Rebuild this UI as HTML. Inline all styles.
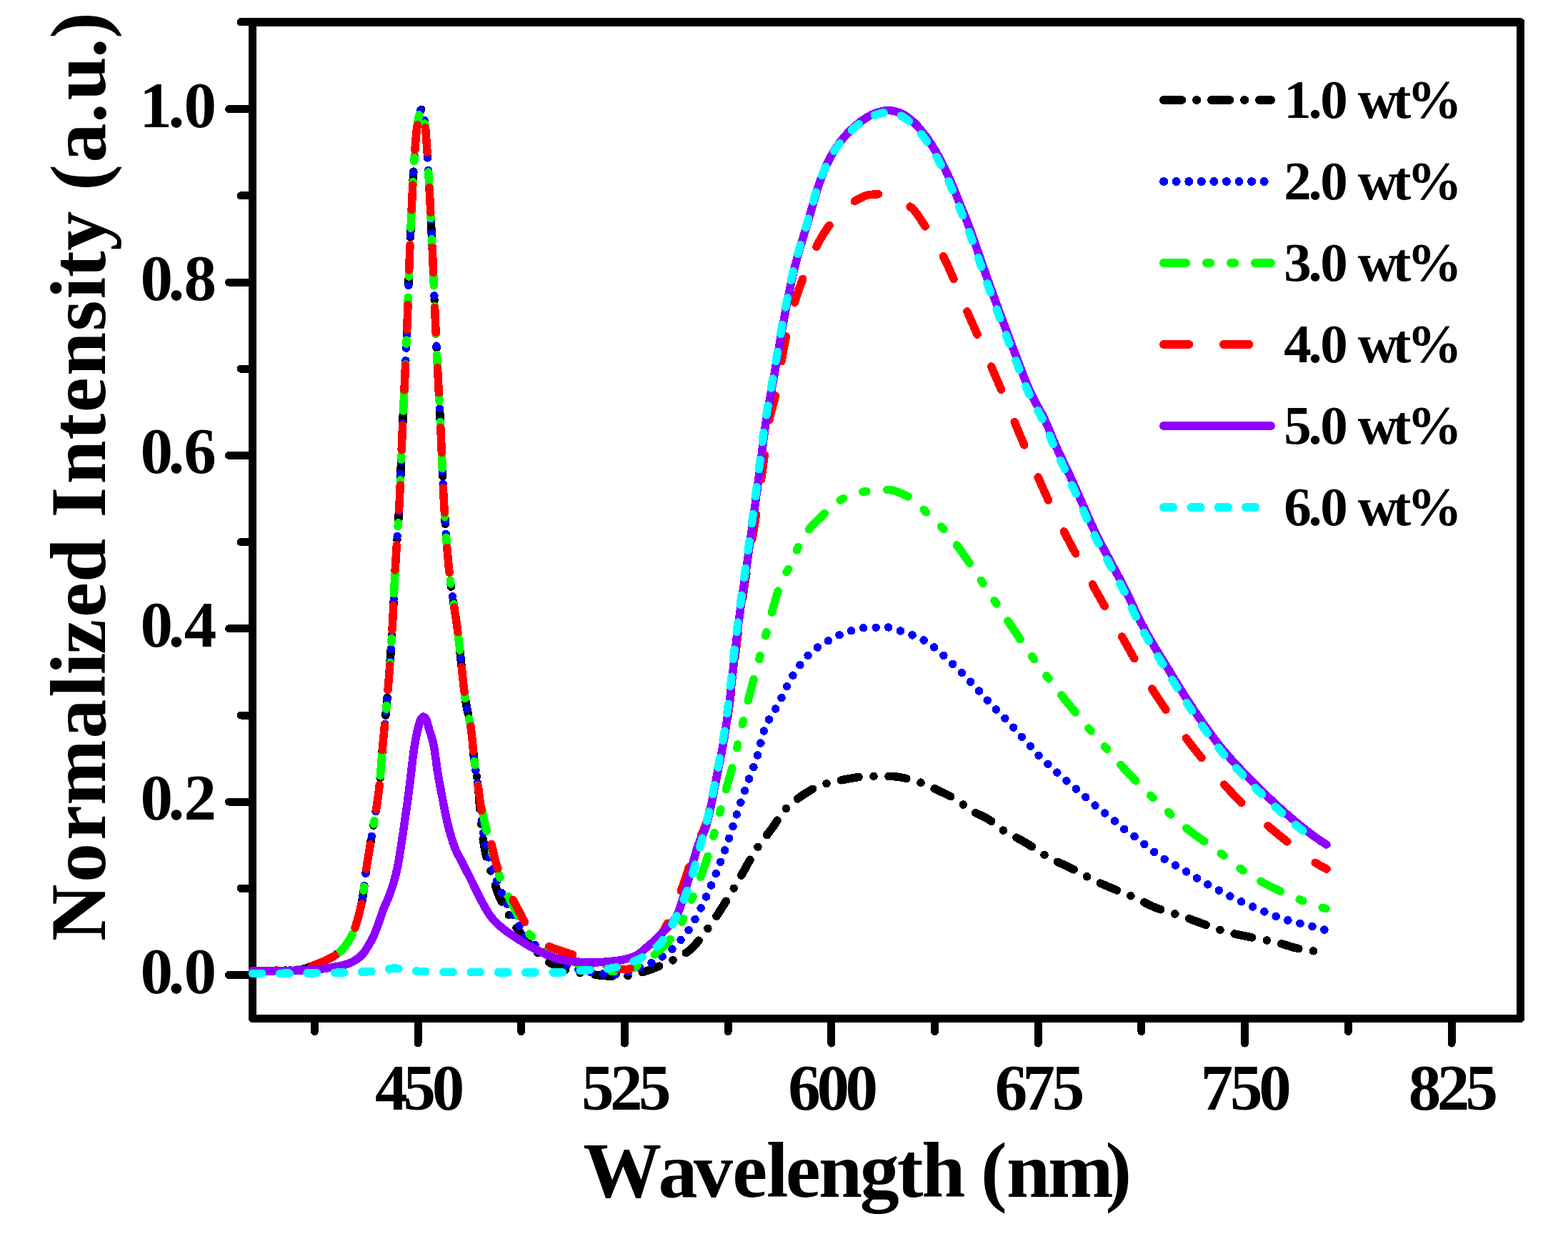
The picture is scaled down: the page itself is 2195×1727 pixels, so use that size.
<!DOCTYPE html>
<html><head><meta charset="utf-8"><title>Normalized Intensity vs Wavelength</title><style>html,body{margin:0;padding:0;background:#fff;overflow:hidden}svg{display:block}</style></head><body>
<svg width="2195" height="1727" viewBox="0 0 2195 1727" shape-rendering="crispEdges">
<rect width="2195" height="1727" fill="#fff"/>
<path d="M353.5,30.7H2128.5V1425.4H353.5Z" fill="none" stroke="#000" stroke-width="11" stroke-linejoin="round"/>
<path d="M353.5,31.3H2128.5" fill="none" stroke="#000" stroke-width="12.2"/>
<path d="M353.5,1364.5H320.6 M353.5,1243.3H337 M353.5,1122.1H320.6 M353.5,1001H337 M353.5,879.8H320.6 M353.5,758.6H337 M353.5,637.4H320.6 M353.5,516.2H337 M353.5,395.1H320.6 M353.5,273.9H337 M353.5,152.7H320.6 M353.5,30.7H337 M440.3,1425.4V1443.5 M585,1425.4V1460.1 M729.7,1425.4V1443.5 M874.4,1425.4V1460.1 M1019.1,1425.4V1443.5 M1163.8,1425.4V1460.1 M1308.5,1425.4V1443.5 M1453.2,1425.4V1460.1 M1597.9,1425.4V1443.5 M1742.6,1425.4V1460.1 M1887.3,1425.4V1443.5 M2032,1425.4V1460.1" fill="none" stroke="#000" stroke-width="11" stroke-linecap="round"/>
<text x="524.9 564.5 604.7" y="1553" font-size="91" font-family="'Liberation Serif', 'Times New Roman', serif" font-weight="bold">450</text>
<text x="813.9 854.1 893.9" y="1553" font-size="91" font-family="'Liberation Serif', 'Times New Roman', serif" font-weight="bold">525</text>
<text x="1103.3 1143.5 1183.5" y="1553" font-size="91" font-family="'Liberation Serif', 'Times New Roman', serif" font-weight="bold">600</text>
<text x="1392.7 1431.4 1472.7" y="1553" font-size="91" font-family="'Liberation Serif', 'Times New Roman', serif" font-weight="bold">675</text>
<text x="1680.8 1722.1 1762.3" y="1553" font-size="91" font-family="'Liberation Serif', 'Times New Roman', serif" font-weight="bold">750</text>
<text x="1971.7 2011.7 2051.5" y="1553" font-size="91" font-family="'Liberation Serif', 'Times New Roman', serif" font-weight="bold">825</text>
<text x="196.6 235.4 257.6" y="1389.5" font-size="91" font-family="'Liberation Serif', 'Times New Roman', serif" font-weight="bold">0.0</text>
<text x="196.6 235.4 257.6" y="1147.1" font-size="91" font-family="'Liberation Serif', 'Times New Roman', serif" font-weight="bold">0.2</text>
<text x="196.6 235.4 257.8" y="904.8" font-size="91" font-family="'Liberation Serif', 'Times New Roman', serif" font-weight="bold">0.4</text>
<text x="196.6 235.4 257.3" y="662.4" font-size="91" font-family="'Liberation Serif', 'Times New Roman', serif" font-weight="bold">0.6</text>
<text x="196.6 235.4 257.6" y="420.1" font-size="91" font-family="'Liberation Serif', 'Times New Roman', serif" font-weight="bold">0.8</text>
<text x="195.3 235.4 257.6" y="177.7" font-size="91" font-family="'Liberation Serif', 'Times New Roman', serif" font-weight="bold">1.0</text>
<text x="816.3 921.4 971 1025.2 1073 1099.8 1145.9 1203.8 1255.8 1290.3 1351.4 1372.9 1408.9 1466.9 1547.5" y="1675" font-size="110" font-family="'Liberation Serif', 'Times New Roman', serif" font-weight="bold">Wavelength (nm)</text>
<text transform="rotate(-90)" x="-1317 -1235 -1175.9 -1126.9 -1033.5 -975.8 -944.3 -915.8 -864 -815 -753.8 -724.6 -677.4 -615.5 -577.3 -526 -463.3 -418.5 -387.9 -350.8 -295.8 -266.8 -227.6 -171.9 -140.5 -80.9 -53.8" y="147.3" font-size="110" font-family="'Liberation Serif', 'Times New Roman', serif" font-weight="bold">Normalized Intensity (a.u.)</text>
<path d="M353.5,1358.5 356,1358.5 358.5,1358.5 361,1358.5 363.5,1358.5 366,1358.5 368.5,1358.4 371,1358.4 373.5,1358.4 376,1358.4 378.5,1358.3 381,1358.3 383.5,1358.3 386,1358.2 388.5,1358.2 391,1358.2 393.5,1358.1 396,1358.1 398.5,1358 401,1358 403.5,1357.9 406,1357.8 408.5,1357.7 411,1357.5 413.5,1357.3 416,1357.1 418.5,1356.8 421,1356.5 423.5,1356.2 426,1355.8 428.5,1355.2 430.9,1354.4 433.3,1353.4 435.6,1352.4 437.9,1351.4 440.3,1350.4 442.7,1349.5 445.1,1348.6 447.5,1347.6 449.9,1346.7 452.3,1345.7 454.6,1344.7 456.9,1343.6 459.2,1342.5 461.5,1341.4 463.8,1340.2 466,1338.9 468.2,1337.6 470.3,1336.2 472.4,1334.7 474.4,1333.1 476.4,1331.5 478.3,1329.7 480.1,1327.8 481.8,1325.8 483.4,1323.7 484.9,1321.6 486.4,1319.4 487.8,1317.3 489.2,1315.1 490.5,1313 491.8,1310.7 493,1308.3 494.1,1306 495.2,1303.5 496.2,1300.9 497.1,1298.3 497.9,1295.8 498.7,1293.1 499.4,1290.7 500.1,1288.3 500.8,1285.7 501.5,1283.2 502.2,1280.6 502.9,1277.9 503.6,1275.2 504.2,1272.8 504.8,1270.2 505.4,1267.5 506,1264.7 506.5,1262.3 507,1259.7 507.5,1257 508,1254 508.4,1251.3 508.8,1248.5 509.2,1245.4 509.6,1242.2 510,1239 510.3,1236.5 510.6,1234 510.9,1231.4 511.2,1228.9 511.6,1225.6 512,1222.4 512.4,1219.3 512.8,1216.4 513.2,1213.6 513.6,1211 514,1208.3 514.4,1205.7 514.8,1203.2 515.2,1200.7 515.7,1197.7 516.2,1194.6 516.7,1191.6 517.2,1188.7 517.7,1185.8 518.2,1182.8 518.7,1179.9 519.2,1177 519.7,1174 520.2,1171.1 520.7,1168 521.2,1165 521.6,1162.5 522,1160 522.4,1157.5 522.9,1154.4 523.4,1151.4 523.9,1148.5 524.4,1145.6 524.9,1142.7 525.4,1139.7 525.9,1136.8 526.4,1133.8 526.9,1130.8 527.3,1128.3 527.7,1125.7 528.1,1123 528.5,1120.3 528.9,1117.5 529.3,1114.6 529.7,1111.6 530.1,1108.4 530.5,1105.2 530.8,1102.6 531.1,1100 531.4,1097.2 531.7,1094.1 532,1090.7 532.3,1087.2 532.6,1083.4 532.8,1080.9 533,1078.3 533.2,1075.6 533.4,1073 533.6,1070.3 533.8,1067.6 534,1065 534.2,1062.4 534.4,1059.8 534.6,1057.2 534.9,1053.5 535.2,1050 535.5,1046.6 535.8,1043.3 536.1,1040 536.4,1036.8 536.7,1033.7 537,1030.6 537.3,1027.5 537.6,1024.4 537.9,1021.4 538.2,1018.4 538.5,1015.3 538.8,1012.3 539.1,1009.2 539.4,1006.2 539.7,1003 540,999.9 540.3,996.7 540.6,993.5 540.9,990.2 541.2,986.8 541.5,983.3 541.8,979.8 542.1,976.3 542.4,972.7 542.7,969.1 543,965.5 543.3,961.9 543.6,958.2 543.9,954.5 544.2,950.8 544.4,948.3 544.6,945.8 544.8,943.2 545,940.6 545.2,938 545.4,935.4 545.6,932.8 545.8,930.1 546,927.4 546.2,924.7 546.4,921.9 546.6,919.1 546.8,916.3 547,913.4 547.2,910.5 547.4,907.5 547.6,904.6 547.8,901.5 548,898.5 548.2,895.4 548.4,892.2 548.6,889 548.8,885.8 549,882.4 549.2,878.8 549.4,875.1 549.6,871.3 549.8,867.4 550,863.4 550.2,859.4 550.4,855.2 550.6,851 550.8,846.8 551,842.5 551.2,838.2 551.4,834 551.6,829.7 551.8,825.4 552,821.2 552.2,817 552.4,812.9 552.6,808.9 552.8,804.9 553,801.1 553.2,797.3 553.4,793.7 553.6,790.2 553.8,786.8 554,783.5 554.2,780.2 554.4,777.1 554.6,773.9 554.8,770.9 555,767.9 555.2,764.9 555.4,762 555.6,759.1 555.8,756.2 556,753.3 556.2,750.4 556.4,747.5 556.6,744.6 556.8,741.7 557,738.7 557.2,735.7 557.4,732.7 557.6,729.6 557.8,726.4 558,723.2 558.2,719.9 558.4,716.5 558.6,713 558.8,709.4 559,705.7 559.2,701.9 559.4,698 559.6,693.9 559.8,689.5 560,684.9 560.2,680.2 560.4,675.4 560.6,670.4 560.7,667.9 560.8,665.3 560.9,662.7 561,660.1 561.1,657.6 561.2,654.9 561.3,652.3 561.4,649.7 561.5,647.1 561.6,644.5 561.7,641.9 561.8,639.2 561.9,636.6 562,634.1 562.1,631.5 562.2,628.9 562.3,626.4 562.4,623.9 562.6,619 562.8,614.1 563,609.5 563.2,604.9 563.4,600.3 563.6,595.9 563.8,591.4 564,587 564.2,582.7 564.4,578.3 564.6,574 564.8,569.8 565,565.5 565.2,561.3 565.4,557.1 565.6,552.9 565.8,548.7 566,544.5 566.2,540.3 566.4,536.1 566.6,531.8 566.8,527.6 567,523.3 567.2,519 567.4,514.7 567.6,510.3 567.8,505.9 568,501.5 568.2,497 568.4,492.5 568.6,487.9 568.8,483.2 569,478.5 569.2,473.7 569.4,468.9 569.6,463.8 569.7,461.3 569.8,458.7 569.9,456.1 570,453.5 570.1,450.8 570.2,448.1 570.3,445.4 570.4,442.7 570.5,439.9 570.6,437.2 570.7,434.4 570.8,431.6 570.9,428.7 571,425.9 571.1,423.1 571.2,420.2 571.3,417.4 571.4,414.5 571.5,411.6 571.6,408.8 571.7,405.9 571.8,403 571.9,400.1 572,397.3 572.1,394.4 572.2,391.5 572.3,388.7 572.4,385.9 572.5,383 572.6,380.2 572.7,377.4 572.8,374.6 572.9,371.8 573,369.1 573.1,366.3 573.2,363.6 573.3,360.9 573.4,358.2 573.5,355.6 573.6,352.9 573.7,350.4 573.8,347.8 573.9,345.3 574,342.8 574.2,337.9 574.4,333.1 574.6,328.5 574.8,323.9 575,319.4 575.2,314.8 575.4,310.3 575.6,305.8 575.8,301.4 576,297 576.2,292.6 576.4,288.3 576.6,284 576.8,279.7 577,275.6 577.2,271.5 577.4,267.4 577.6,263.4 577.8,259.5 578,255.7 578.2,252 578.4,248.3 578.6,244.7 578.8,241.2 579,237.9 579.2,234.6 579.4,231.4 579.6,228.3 579.8,225.4 580,222.5 580.2,219.7 580.4,216.8 580.6,214 580.8,211.3 581,208.5 581.2,205.9 581.4,203.3 581.6,200.7 581.9,197 582.2,193.5 582.5,190.1 582.8,187 583.1,184.1 583.4,181.5 583.8,178.4 584.2,175.7 584.6,173.1 585,170.6 585.4,168.1 585.9,165.1 586.4,162.4 586.9,159.8 587.5,157.2 588.3,154.6 589.9,153.2 591.1,155.4 591.9,158.2 592.5,160.8 593,163.2 593.5,165.9 594,168.8 594.5,171.9 594.9,174.4 595.3,177.2 595.6,179.8 595.9,183 596.2,186.5 596.4,189 596.6,191.7 596.8,194.5 597,197.4 597.2,200.3 597.4,203.4 597.6,206.5 597.8,209.6 598,212.8 598.2,216 598.4,219.2 598.6,222.3 598.8,225.4 599,228.5 599.2,231.7 599.4,234.9 599.6,238.2 599.8,241.6 600,245 600.2,248.5 600.4,252.1 600.6,255.6 600.8,259.3 601,263 601.2,266.7 601.4,270.5 601.6,274.3 601.8,278.1 602,282 602.2,286 602.4,289.9 602.6,293.9 602.8,297.9 603,302 603.2,306 603.4,310.1 603.6,314.2 603.8,318.3 604,322.5 604.2,326.6 604.4,330.8 604.6,335 604.8,339.3 605,343.7 605.2,348.1 605.4,352.7 605.6,357.3 605.8,361.9 606,366.6 606.2,371.3 606.4,376.1 606.6,380.9 606.8,385.8 607,390.7 607.2,395.5 607.4,400.4 607.6,405.3 607.8,410.2 608,415.1 608.2,420 608.4,424.9 608.6,429.7 608.8,434.5 609,439.3 609.2,444.1 609.4,448.7 609.6,453.4 609.8,458 610,462.5 610.2,466.9 610.4,471.3 610.6,475.6 610.8,479.9 611,484.1 611.2,488.2 611.4,492.4 611.6,496.5 611.8,500.5 612,504.6 612.2,508.6 612.4,512.5 612.6,516.5 612.8,520.4 613,524.3 613.2,528.2 613.4,532.1 613.6,536 613.8,539.9 614,543.7 614.2,547.6 614.4,551.5 614.6,555.3 614.8,559.2 615,563.1 615.2,567 615.4,571 615.6,574.9 615.8,578.9 616,582.9 616.2,586.9 616.4,591 616.6,595 616.8,599.2 617,603.3 617.2,607.5 617.4,611.8 617.6,616.2 617.8,620.6 618,625.3 618.2,630 618.4,634.8 618.6,639.6 618.8,644.5 619,649.4 619.2,654.3 619.4,659.1 619.6,664 619.8,668.7 620,673.4 620.2,677.9 620.4,682.3 620.6,686.6 620.8,690.7 621,694.6 621.2,698.2 621.4,701.7 621.6,705.1 621.8,708.5 622,711.8 622.2,715.1 622.4,718.3 622.6,721.4 622.8,724.6 623,727.7 623.2,730.7 623.4,733.7 623.6,736.6 623.8,739.6 624,742.4 624.2,745.2 624.4,748 624.6,750.8 624.8,753.4 625,756.1 625.2,758.7 625.4,761.3 625.6,763.8 625.9,767.5 626.2,771.1 626.5,774.6 626.8,778 627.1,781.3 627.4,784.6 627.7,787.7 628,790.7 628.3,793.7 628.6,796.6 628.9,799.4 629.2,802.1 629.5,804.7 629.8,807.3 630.1,809.9 630.5,813.1 630.9,816.3 631.3,819.4 631.7,822.4 632.1,825.3 632.5,828.2 632.9,831 633.3,833.7 633.7,836.4 634.1,839.1 634.5,841.7 634.9,844.3 635.3,846.8 635.7,849.4 636.1,852 636.5,854.5 636.9,857.1 637.3,859.7 637.7,862.3 638.1,865 638.5,867.6 638.9,870.4 639.3,873.2 639.7,876 640.1,878.9 640.5,881.9 640.9,885 641.3,888.2 641.7,891.5 642,894 642.3,896.6 642.6,899.3 642.9,902 643.2,904.7 643.5,907.5 643.8,910.3 644.1,913.1 644.4,916 644.7,918.8 645,921.7 645.3,924.6 645.6,927.5 645.9,930.4 646.2,933.3 646.5,936.2 646.8,939.1 647.1,942 647.4,944.8 647.7,947.6 648,950.4 648.3,953.2 648.6,955.9 648.9,958.5 649.2,961.2 649.5,963.7 649.8,966.2 650.2,969.4 650.6,972.5 651,975.5 651.4,978.3 651.8,981 652.2,983.5 652.7,986.4 653.2,989.1 653.7,991.6 654.3,994.4 654.9,997.2 655.5,999.8 656.1,1002.5 656.7,1005.3 657.3,1008.1 657.8,1010.7 658.3,1013.4 658.8,1016.4 659.2,1019 659.6,1021.7 660,1024.9 660.3,1027.5 660.6,1030.4 660.9,1033.4 661.2,1036.5 661.5,1039.7 661.8,1043 662.1,1046.2 662.4,1049.5 662.7,1052.7 663,1055.8 663.3,1058.8 663.6,1061.6 663.9,1064.2 664.3,1067.3 664.7,1070.2 665.1,1072.9 665.5,1075.4 666,1078.5 666.5,1081.4 667,1084.3 667.5,1087.3 667.9,1089.8 668.3,1092.5 668.7,1095.4 669.1,1098.6 669.4,1101.1 669.7,1103.9 670,1107.2 670.3,1110.9 670.5,1113.5 670.7,1116.2 670.9,1119.1 671.1,1122 671.3,1125 671.5,1127.9 671.7,1130.9 671.9,1133.9 672.1,1136.8 672.3,1139.6 672.5,1142.3 672.7,1144.9 673,1148.5 673.3,1151.7 673.6,1154.4 673.9,1156.9 674.3,1160.1 674.7,1163.3 675.1,1166.3 675.5,1169.2 675.9,1172.1 676.3,1174.8 676.7,1177.4 677.1,1179.9 677.6,1182.9 678.1,1185.8 678.6,1188.5 679.1,1191.1 679.6,1193.6 680.2,1196.4 680.8,1199.1 681.4,1201.6 682.1,1204.3 682.8,1206.8 683.6,1209.4 684.4,1211.8 685.3,1214.4 686.2,1216.8 687.1,1219.2 688,1221.6 688.9,1224.1 689.7,1226.5 690.5,1229 691.3,1231.7 692.1,1234.4 692.9,1237.1 693.7,1239.8 694.5,1242.4 695.3,1245 696.1,1247.4 697,1250 698,1252.5 699,1254.9 700.1,1257.3 701.2,1259.6 702.4,1262 703.6,1264.3 704.8,1266.5 706.1,1268.9 707.4,1271.3 708.6,1273.5 709.8,1275.7 711,1278 712.2,1280.2 713.4,1282.4 714.6,1284.6 715.9,1287 717.2,1289.3 718.5,1291.5 719.8,1293.6 721.2,1295.8 722.6,1297.9 724.1,1300 725.7,1302.1 727.3,1304.1 729,1306.1 730.7,1308 732.4,1309.8 734.2,1311.8 736,1313.7 737.8,1315.6 739.6,1317.5 741.3,1319.3 743,1321.2 744.7,1323.2 746.3,1325.2 747.9,1327.3 749.5,1329.4 751.1,1331.6 752.7,1333.6 754.3,1335.6 756,1337.5 757.8,1339.4 759.7,1341 761.8,1342.5 763.9,1343.9 766.1,1345.3 768.3,1346.6 770.6,1347.8 772.9,1349 775.2,1350.1 777.5,1351.1 779.8,1352.2 782.1,1353.2 784.4,1354.3 786.7,1355.3 789.1,1356.3 791.5,1357.2 793.9,1358 796.4,1358.6 798.9,1359.2 801.4,1359.7 803.9,1360.2 806.4,1360.6 808.9,1361 811.4,1361.4 813.9,1361.8 816.4,1362.1 818.9,1362.5 821.4,1362.8 823.9,1363.1 826.4,1363.4 828.9,1363.7 831.4,1364 833.9,1364.3 836.4,1364.6 838.9,1364.9 841.4,1365.1 843.9,1365.4 846.4,1365.6 848.9,1365.8 851.4,1365.9 853.9,1366 856.4,1366 859,1366 861.6,1366 864.2,1366 866.8,1366 869.4,1366 872,1366 874.6,1366 877.1,1366 879.6,1365.7 882.1,1365.3 884.6,1364.7 887.1,1364 889.6,1363.3 892.1,1362.6 894.6,1362 897.1,1361.3 899.6,1360.6 902,1359.8 904.4,1359 906.8,1358.2 909.2,1357.4 911.6,1356.5 914,1355.6 916.4,1354.7 918.8,1353.8 921.2,1352.8 923.6,1351.8 926,1350.8 928.4,1349.8 930.7,1348.8 933,1347.8 935.3,1346.8 937.6,1345.8 939.9,1344.8 942.2,1343.7 944.5,1342.6 946.8,1341.5 949.1,1340.3 951.4,1339 953.6,1337.8 955.8,1336.5 958,1335.1 960.1,1333.7 962.2,1332.3 964.3,1330.7 966.3,1329.1 968.2,1327.3 970,1325.5 971.8,1323.7 973.5,1321.8 975.2,1319.8 976.8,1317.9 978.4,1315.9 980,1313.9 981.6,1311.8 983.2,1309.7 984.8,1307.5 986.3,1305.5 987.8,1303.5 989.3,1301.5 990.8,1299.5 992.4,1297.4 993.9,1295.4 995.4,1293.3 996.9,1291.2 998.4,1289 999.9,1286.8 1001.3,1284.8 1002.7,1282.7 1004.1,1280.5 1005.5,1278.4 1006.9,1276.2 1008.3,1274 1009.7,1271.8 1011.1,1269.6 1012.5,1267.4 1013.9,1265.1 1015.3,1262.9 1016.7,1260.7 1018.1,1258.4 1019.5,1256.1 1020.8,1254 1022.1,1251.8 1023.4,1249.7 1024.7,1247.5 1026,1245.3 1027.3,1243.1 1028.6,1240.9 1029.9,1238.6 1031.2,1236.4 1032.5,1234.1 1033.8,1231.9 1035.1,1229.7 1036.4,1227.4 1037.7,1225.2 1039,1222.9 1040.3,1220.7 1041.6,1218.3 1042.9,1216 1044.2,1213.6 1045.5,1211.3 1046.8,1208.9 1048.1,1206.5 1049.4,1204.2 1050.7,1201.8 1052,1199.5 1053.3,1197.3 1054.6,1195.1 1055.9,1192.9 1057.3,1190.7 1058.7,1188.5 1060.1,1186.4 1061.6,1184.2 1063.1,1182.2 1064.6,1180.1 1066.2,1178 1067.8,1175.9 1069.4,1173.9 1071,1171.9 1072.6,1169.9 1074.2,1167.8 1075.8,1165.8 1077.4,1163.7 1079,1161.6 1080.5,1159.6 1082,1157.5 1083.5,1155.4 1084.9,1153.3 1086.3,1151 1087.6,1148.8 1088.9,1146.6 1090.2,1144.4 1091.6,1142.2 1093.1,1140 1094.7,1138 1096.4,1136.1 1098.1,1134.2 1099.9,1132.2 1101.7,1130.4 1103.5,1128.7 1105.4,1126.9 1107.3,1125.2 1109.3,1123.6 1111.3,1121.9 1113.3,1120.4 1115.4,1118.8 1117.5,1117.3 1119.6,1115.8 1121.7,1114.3 1123.8,1112.8 1125.9,1111.4 1128,1110 1130.2,1108.6 1132.4,1107.3 1134.6,1106 1136.8,1104.7 1139.1,1103.5 1141.4,1102.4 1143.7,1101.3 1146.1,1100.3 1148.5,1099.5 1150.9,1098.6 1153.3,1097.8 1155.7,1097.1 1158.1,1096.4 1160.6,1095.7 1163.1,1095 1165.6,1094.4 1168.1,1093.8 1170.6,1093.2 1173.1,1092.7 1175.6,1092.2 1178.1,1091.7 1180.6,1091.3 1183.1,1090.8 1185.6,1090.3 1188.1,1089.9 1190.6,1089.4 1193.1,1089 1195.6,1088.5 1198.1,1088.1 1200.6,1087.7 1203.1,1087.3 1205.6,1087 1208.1,1086.7 1210.6,1086.5 1213.1,1086.4 1215.6,1086.3 1218.1,1086.3 1220.6,1086.3 1223.1,1086.3 1225.6,1086.3 1228.1,1086.3 1230.6,1086.4 1233.1,1086.4 1235.6,1086.4 1238.1,1086.4 1240.6,1086.5 1243.1,1086.5 1245.6,1086.5 1248.1,1086.6 1250.6,1086.6 1253.1,1086.8 1255.6,1087.1 1258.1,1087.4 1260.6,1087.8 1263.1,1088.3 1265.6,1088.8 1268.1,1089.4 1270.6,1090 1273.1,1090.6 1275.6,1091.3 1278.1,1092 1280.6,1092.6 1283.1,1093.3 1285.5,1094 1287.9,1094.8 1290.3,1095.7 1292.7,1096.7 1295.1,1097.7 1297.4,1098.7 1299.7,1099.7 1302,1100.8 1304.3,1101.8 1306.6,1102.9 1308.9,1104.1 1311.2,1105.2 1313.5,1106.2 1315.8,1107.3 1318.1,1108.4 1320.4,1109.5 1322.7,1110.6 1325,1111.7 1327.3,1112.9 1329.6,1114.1 1331.9,1115.3 1334.1,1116.6 1336.3,1117.8 1338.5,1119.2 1340.6,1120.5 1342.7,1122 1344.8,1123.5 1346.9,1125 1349,1126.6 1351.1,1128.1 1353.2,1129.7 1355.3,1131.2 1357.4,1132.7 1359.5,1134.1 1361.7,1135.4 1363.9,1136.7 1366.2,1137.9 1368.5,1139.1 1370.8,1140.1 1373.1,1141.2 1375.4,1142.3 1377.7,1143.4 1380,1144.5 1382.2,1145.7 1384.4,1147.1 1386.5,1148.5 1388.5,1150.1 1390.5,1151.6 1392.5,1153.3 1394.5,1154.9 1396.5,1156.6 1398.5,1158.1 1400.6,1159.7 1402.7,1161.1 1404.9,1162.5 1407.1,1163.8 1409.3,1165 1411.5,1166.2 1413.8,1167.5 1416.1,1168.7 1418.4,1169.9 1420.7,1171.1 1423,1172.3 1425.3,1173.5 1427.5,1174.7 1429.7,1175.9 1431.9,1177.2 1434.1,1178.5 1436.3,1179.8 1438.5,1181.2 1440.7,1182.5 1442.9,1183.9 1445.1,1185.3 1447.3,1186.7 1449.5,1188.1 1451.7,1189.5 1453.8,1190.8 1455.9,1192.2 1458,1193.7 1460.1,1195.1 1462.2,1196.5 1464.4,1197.9 1466.6,1199.2 1468.8,1200.5 1471,1201.7 1473.3,1202.9 1475.6,1204.1 1477.9,1205.2 1480.2,1206.2 1482.5,1207.3 1484.8,1208.3 1487.1,1209.3 1489.4,1210.3 1491.7,1211.4 1494,1212.4 1496.3,1213.5 1498.6,1214.7 1500.9,1215.8 1503.2,1217 1505.5,1218.2 1507.8,1219.5 1510.1,1220.7 1512.4,1221.9 1514.7,1223.2 1517,1224.4 1519.3,1225.6 1521.6,1226.8 1523.9,1228 1526.2,1229.2 1528.5,1230.4 1530.8,1231.6 1533.1,1232.7 1535.4,1233.8 1537.7,1234.9 1540,1236 1542.3,1237 1544.6,1238 1546.9,1239 1549.3,1240 1551.7,1241 1554.1,1242 1556.5,1243 1558.9,1244 1561.3,1245 1563.7,1246 1566.1,1247 1568.5,1247.9 1570.9,1248.9 1573.3,1249.9 1575.7,1250.8 1578.1,1251.8 1580.5,1252.8 1582.9,1253.8 1585.2,1254.8 1587.5,1255.8 1589.8,1256.9 1592.1,1258 1594.4,1259.1 1596.7,1260.3 1599,1261.4 1601.3,1262.6 1603.6,1263.8 1605.9,1264.9 1608.2,1266.1 1610.5,1267.2 1612.8,1268.2 1615.1,1269.2 1617.5,1270.2 1619.9,1271.1 1622.3,1272 1624.7,1272.8 1627.1,1273.6 1629.5,1274.3 1631.9,1275.1 1634.3,1275.8 1636.7,1276.5 1639.1,1277.2 1641.5,1278 1643.9,1278.7 1646.3,1279.4 1648.7,1280.2 1651.1,1281 1653.5,1281.8 1655.9,1282.6 1658.3,1283.5 1660.7,1284.3 1663.1,1285.2 1665.5,1286.1 1667.9,1287 1670.3,1287.9 1672.7,1288.8 1675.1,1289.6 1677.5,1290.5 1679.9,1291.4 1682.3,1292.3 1684.7,1293.1 1687.1,1294 1689.5,1294.8 1691.9,1295.7 1694.3,1296.5 1696.7,1297.4 1699.1,1298.3 1701.5,1299.1 1703.9,1300 1706.3,1300.8 1708.7,1301.6 1711.1,1302.4 1713.5,1303.1 1715.9,1303.8 1718.4,1304.5 1720.9,1305.2 1723.4,1305.8 1725.9,1306.4 1728.4,1307 1730.9,1307.5 1733.4,1308.1 1735.9,1308.6 1738.4,1309.1 1740.9,1309.6 1743.4,1310.1 1745.9,1310.6 1748.4,1311.1 1750.9,1311.6 1753.4,1312.1 1755.9,1312.6 1758.4,1313.1 1760.9,1313.6 1763.4,1314.1 1765.9,1314.6 1768.4,1315.1 1770.9,1315.6 1773.4,1316.1 1775.9,1316.6 1778.4,1317.1 1780.9,1317.6 1783.4,1318.1 1785.9,1318.7 1788.4,1319.3 1790.9,1320 1793.4,1320.7 1795.8,1321.4 1798.2,1322.1 1800.6,1322.9 1803,1323.6 1805.4,1324.4 1807.8,1325.1 1810.3,1325.8 1812.8,1326.4 1815.3,1327 1817.8,1327.6 1820.3,1328.1 1822.8,1328.5 1825.3,1328.9 1827.8,1329.3 1830.3,1329.7 1832.8,1330.1 1835.3,1330.4 1837.8,1330.8 1840.3,1331.1 1842.8,1331.4 1845.3,1331.7 1847.8,1331.9 1850.3,1332.2 1852.8,1332.4 1855.3,1332.5 1857,1332.6" fill="none" stroke="#000000" stroke-width="11.5" stroke-linecap="round" stroke-linejoin="round" stroke-dasharray="25 21 0.01 21"/>
<path d="M353.5,1358.5 356,1358.5 358.5,1358.5 361,1358.5 363.5,1358.5 366,1358.5 368.5,1358.4 371,1358.4 373.5,1358.4 376,1358.4 378.5,1358.3 381,1358.3 383.5,1358.3 386,1358.2 388.5,1358.2 391,1358.2 393.5,1358.1 396,1358.1 398.5,1358 401,1358 403.5,1357.9 406,1357.8 408.5,1357.7 411,1357.5 413.5,1357.3 416,1357.1 418.5,1356.8 421,1356.5 423.5,1356.2 426,1355.8 428.5,1355.2 430.9,1354.4 433.3,1353.4 435.6,1352.4 437.9,1351.4 440.3,1350.4 442.7,1349.5 445.1,1348.6 447.5,1347.6 449.9,1346.7 452.3,1345.7 454.6,1344.7 456.9,1343.6 459.2,1342.5 461.5,1341.4 463.8,1340.2 466,1338.9 468.2,1337.6 470.3,1336.2 472.4,1334.7 474.4,1333.1 476.4,1331.5 478.3,1329.7 480.1,1327.8 481.8,1325.8 483.4,1323.7 484.9,1321.6 486.4,1319.4 487.8,1317.3 489.2,1315.1 490.5,1313 491.8,1310.7 493,1308.3 494.1,1306 495.2,1303.5 496.2,1300.9 497.1,1298.3 497.9,1295.8 498.7,1293.1 499.4,1290.7 500.1,1288.3 500.8,1285.7 501.5,1283.2 502.2,1280.6 502.9,1277.9 503.6,1275.2 504.2,1272.8 504.8,1270.2 505.4,1267.5 506,1264.7 506.5,1262.3 507,1259.7 507.5,1257 508,1254 508.4,1251.3 508.8,1248.5 509.2,1245.4 509.6,1242.2 510,1239 510.3,1236.5 510.6,1234 510.9,1231.4 511.2,1228.9 511.6,1225.6 512,1222.4 512.4,1219.3 512.8,1216.4 513.2,1213.6 513.6,1211 514,1208.3 514.4,1205.7 514.8,1203.2 515.2,1200.7 515.7,1197.7 516.2,1194.6 516.7,1191.6 517.2,1188.7 517.7,1185.8 518.2,1182.8 518.7,1179.9 519.2,1177 519.7,1174 520.2,1171.1 520.7,1168 521.2,1165 521.6,1162.5 522,1160 522.4,1157.5 522.9,1154.4 523.4,1151.4 523.9,1148.5 524.4,1145.6 524.9,1142.7 525.4,1139.7 525.9,1136.8 526.4,1133.8 526.9,1130.8 527.3,1128.3 527.7,1125.7 528.1,1123 528.5,1120.3 528.9,1117.5 529.3,1114.6 529.7,1111.6 530.1,1108.4 530.5,1105.2 530.8,1102.6 531.1,1100 531.4,1097.2 531.7,1094.1 532,1090.7 532.3,1087.2 532.6,1083.4 532.8,1080.9 533,1078.3 533.2,1075.6 533.4,1073 533.6,1070.3 533.8,1067.6 534,1065 534.2,1062.4 534.4,1059.8 534.6,1057.2 534.9,1053.5 535.2,1050 535.5,1046.6 535.8,1043.3 536.1,1040 536.4,1036.8 536.7,1033.7 537,1030.6 537.3,1027.5 537.6,1024.4 537.9,1021.4 538.2,1018.4 538.5,1015.3 538.8,1012.3 539.1,1009.2 539.4,1006.2 539.7,1003 540,999.9 540.3,996.7 540.6,993.5 540.9,990.2 541.2,986.8 541.5,983.3 541.8,979.8 542.1,976.3 542.4,972.7 542.7,969.1 543,965.5 543.3,961.9 543.6,958.2 543.9,954.5 544.2,950.8 544.4,948.3 544.6,945.8 544.8,943.2 545,940.6 545.2,938 545.4,935.4 545.6,932.8 545.8,930.1 546,927.4 546.2,924.7 546.4,921.9 546.6,919.1 546.8,916.3 547,913.4 547.2,910.5 547.4,907.5 547.6,904.6 547.8,901.5 548,898.5 548.2,895.4 548.4,892.2 548.6,889 548.8,885.8 549,882.4 549.2,878.8 549.4,875.1 549.6,871.3 549.8,867.4 550,863.4 550.2,859.4 550.4,855.2 550.6,851 550.8,846.8 551,842.5 551.2,838.2 551.4,834 551.6,829.7 551.8,825.4 552,821.2 552.2,817 552.4,812.9 552.6,808.9 552.8,804.9 553,801.1 553.2,797.3 553.4,793.7 553.6,790.2 553.8,786.8 554,783.5 554.2,780.2 554.4,777.1 554.6,773.9 554.8,770.9 555,767.9 555.2,764.9 555.4,762 555.6,759.1 555.8,756.2 556,753.3 556.2,750.4 556.4,747.5 556.6,744.6 556.8,741.7 557,738.7 557.2,735.7 557.4,732.7 557.6,729.6 557.8,726.4 558,723.2 558.2,719.9 558.4,716.5 558.6,713 558.8,709.4 559,705.7 559.2,701.9 559.4,698 559.6,693.9 559.8,689.5 560,684.9 560.2,680.2 560.4,675.4 560.6,670.4 560.7,667.9 560.8,665.3 560.9,662.7 561,660.1 561.1,657.6 561.2,654.9 561.3,652.3 561.4,649.7 561.5,647.1 561.6,644.5 561.7,641.9 561.8,639.2 561.9,636.6 562,634.1 562.1,631.5 562.2,628.9 562.3,626.4 562.4,623.9 562.6,619 562.8,614.1 563,609.5 563.2,604.9 563.4,600.3 563.6,595.9 563.8,591.4 564,587 564.2,582.7 564.4,578.3 564.6,574 564.8,569.8 565,565.5 565.2,561.3 565.4,557.1 565.6,552.9 565.8,548.7 566,544.5 566.2,540.3 566.4,536.1 566.6,531.8 566.8,527.6 567,523.3 567.2,519 567.4,514.7 567.6,510.3 567.8,505.9 568,501.5 568.2,497 568.4,492.5 568.6,487.9 568.8,483.2 569,478.5 569.2,473.7 569.4,468.9 569.6,463.8 569.7,461.3 569.8,458.7 569.9,456.1 570,453.5 570.1,450.8 570.2,448.1 570.3,445.4 570.4,442.7 570.5,439.9 570.6,437.2 570.7,434.4 570.8,431.6 570.9,428.7 571,425.9 571.1,423.1 571.2,420.2 571.3,417.4 571.4,414.5 571.5,411.6 571.6,408.8 571.7,405.9 571.8,403 571.9,400.1 572,397.3 572.1,394.4 572.2,391.5 572.3,388.7 572.4,385.9 572.5,383 572.6,380.2 572.7,377.4 572.8,374.6 572.9,371.8 573,369.1 573.1,366.3 573.2,363.6 573.3,360.9 573.4,358.2 573.5,355.6 573.6,352.9 573.7,350.4 573.8,347.8 573.9,345.3 574,342.8 574.2,337.9 574.4,333.1 574.6,328.5 574.8,323.9 575,319.4 575.2,314.8 575.4,310.3 575.6,305.8 575.8,301.4 576,297 576.2,292.6 576.4,288.3 576.6,284 576.8,279.7 577,275.6 577.2,271.5 577.4,267.4 577.6,263.4 577.8,259.5 578,255.7 578.2,252 578.4,248.3 578.6,244.7 578.8,241.2 579,237.9 579.2,234.6 579.4,231.4 579.6,228.3 579.8,225.4 580,222.5 580.2,219.7 580.4,216.8 580.6,214 580.8,211.3 581,208.5 581.2,205.9 581.4,203.3 581.6,200.7 581.9,197 582.2,193.5 582.5,190.1 582.8,187 583.1,184.1 583.4,181.5 583.8,178.4 584.2,175.7 584.6,173.1 585,170.6 585.4,168.1 585.9,165.1 586.4,162.4 586.9,159.8 587.5,157.2 588.3,154.6 589.9,153.2 591.1,155.4 591.9,158.2 592.5,160.8 593,163.2 593.5,165.9 594,168.8 594.5,171.9 594.9,174.4 595.3,177.2 595.6,179.8 595.9,183 596.2,186.5 596.4,189 596.6,191.7 596.8,194.5 597,197.4 597.2,200.3 597.4,203.4 597.6,206.5 597.8,209.6 598,212.8 598.2,216 598.4,219.2 598.6,222.3 598.8,225.4 599,228.5 599.2,231.7 599.4,234.9 599.6,238.2 599.8,241.6 600,245 600.2,248.5 600.4,252.1 600.6,255.6 600.8,259.3 601,263 601.2,266.7 601.4,270.5 601.6,274.3 601.8,278.1 602,282 602.2,286 602.4,289.9 602.6,293.9 602.8,297.9 603,302 603.2,306 603.4,310.1 603.6,314.2 603.8,318.3 604,322.5 604.2,326.6 604.4,330.8 604.6,335 604.8,339.3 605,343.7 605.2,348.1 605.4,352.7 605.6,357.3 605.8,361.9 606,366.6 606.2,371.3 606.4,376.1 606.6,380.9 606.8,385.8 607,390.7 607.2,395.5 607.4,400.4 607.6,405.3 607.8,410.2 608,415.1 608.2,420 608.4,424.9 608.6,429.7 608.8,434.5 609,439.3 609.2,444.1 609.4,448.7 609.6,453.4 609.8,458 610,462.5 610.2,466.9 610.4,471.3 610.6,475.6 610.8,479.9 611,484.1 611.2,488.2 611.4,492.4 611.6,496.5 611.8,500.5 612,504.6 612.2,508.6 612.4,512.5 612.6,516.5 612.8,520.4 613,524.3 613.2,528.2 613.4,532.1 613.6,536 613.8,539.9 614,543.7 614.2,547.6 614.4,551.5 614.6,555.3 614.8,559.2 615,563.1 615.2,567 615.4,571 615.6,574.9 615.8,578.9 616,582.9 616.2,586.9 616.4,591 616.6,595 616.8,599.2 617,603.3 617.2,607.5 617.4,611.8 617.6,616.2 617.8,620.6 618,625.3 618.2,630 618.4,634.8 618.6,639.6 618.8,644.5 619,649.4 619.2,654.3 619.4,659.1 619.6,664 619.8,668.7 620,673.4 620.2,677.9 620.4,682.3 620.6,686.6 620.8,690.7 621,694.6 621.2,698.2 621.4,701.7 621.6,705.1 621.8,708.5 622,711.8 622.2,715.1 622.4,718.3 622.6,721.4 622.8,724.6 623,727.7 623.2,730.7 623.4,733.7 623.6,736.6 623.8,739.6 624,742.4 624.2,745.2 624.4,748 624.6,750.8 624.8,753.4 625,756.1 625.2,758.7 625.4,761.3 625.6,763.8 625.9,767.5 626.2,771.1 626.5,774.6 626.8,778 627.1,781.3 627.4,784.6 627.7,787.7 628,790.7 628.3,793.7 628.6,796.6 628.9,799.4 629.2,802.1 629.5,804.7 629.8,807.3 630.1,809.9 630.5,813.1 630.9,816.3 631.3,819.4 631.7,822.4 632.1,825.3 632.5,828.2 632.9,831 633.3,833.7 633.7,836.4 634.1,839.1 634.5,841.7 634.9,844.3 635.3,846.8 635.7,849.4 636.1,852 636.5,854.5 636.9,857.1 637.3,859.7 637.7,862.3 638.1,865 638.5,867.6 638.9,870.4 639.3,873.2 639.7,876 640.1,878.9 640.5,881.9 640.9,885 641.3,888.2 641.7,891.5 642,894 642.3,896.6 642.6,899.3 642.9,902 643.2,904.7 643.5,907.5 643.8,910.3 644.1,913.1 644.4,916 644.7,918.8 645,921.7 645.3,924.6 645.6,927.5 645.9,930.4 646.2,933.3 646.5,936.2 646.8,939.1 647.1,942 647.4,944.8 647.7,947.6 648,950.4 648.3,953.2 648.6,955.9 648.9,958.5 649.2,961.2 649.5,963.7 649.8,966.2 650.2,969.4 650.6,972.5 651,975.5 651.4,978.3 651.8,981 652.2,983.5 652.7,986.4 653.2,989.1 653.7,991.6 654.3,994.4 654.9,997.2 655.5,999.8 656.1,1002.5 656.7,1005.3 657.3,1008.1 657.8,1010.7 658.3,1013.4 658.8,1016.4 659.2,1019 659.6,1021.7 660,1024.9 660.3,1027.5 660.6,1030.4 660.9,1033.4 661.2,1036.5 661.5,1039.7 661.8,1043 662.1,1046.2 662.4,1049.5 662.7,1052.7 663,1055.8 663.3,1058.8 663.6,1061.6 663.9,1064.2 664.3,1067.3 664.7,1070.3 665.1,1073.1 665.5,1075.8 665.9,1078.4 666.3,1080.9 666.7,1083.4 667.2,1086.4 667.6,1088.9 668,1091.5 668.4,1094.1 668.8,1096.8 669.2,1099.7 669.6,1102.8 670,1106.1 670.3,1108.8 670.6,1111.6 670.9,1114.5 671.2,1117.5 671.5,1120.6 671.8,1123.7 672.1,1126.9 672.4,1130 672.7,1133.2 673,1136.4 673.3,1139.5 673.6,1142.6 673.9,1145.6 674.2,1148.5 674.5,1151.3 674.8,1154 675.1,1156.5 675.5,1159.6 675.9,1162.4 676.4,1165.3 676.9,1168.1 677.4,1170.8 677.9,1173.4 678.4,1175.9 679,1178.7 679.6,1181.5 680.2,1184.2 680.8,1186.7 681.4,1189.2 682.1,1192 682.8,1194.6 683.5,1197.2 684.2,1199.6 685,1202.4 685.8,1205 686.6,1207.5 687.4,1210 688.2,1212.4 689,1214.8 689.8,1217.2 690.6,1219.6 691.4,1222 692.3,1224.6 693.2,1227.2 694.1,1229.6 695,1232.1 695.9,1234.4 696.9,1236.9 697.9,1239.4 698.9,1241.8 699.9,1244.2 700.9,1246.5 702,1249 703.1,1251.4 704.2,1253.8 705.3,1256.1 706.4,1258.5 707.6,1260.9 708.8,1263.2 710,1265.5 711.2,1267.7 712.5,1270.1 713.8,1272.4 715.1,1274.7 716.4,1277 717.7,1279.4 719,1281.7 720.3,1284 721.6,1286.4 722.9,1288.6 724.2,1290.9 725.5,1293.1 726.8,1295.4 728.1,1297.6 729.4,1299.9 730.7,1302.2 732,1304.6 733.3,1306.8 734.6,1309 736,1311.1 737.6,1313.1 739.4,1315 741.3,1316.8 743.3,1318.4 745.4,1320 747.5,1321.4 749.6,1322.8 751.7,1324.1 753.8,1325.6 755.9,1327 758,1328.5 760.1,1330 762.2,1331.6 764.3,1333.1 766.4,1334.6 768.5,1336.1 770.6,1337.6 772.7,1339.1 774.8,1340.5 776.9,1341.9 779.1,1343.3 781.3,1344.7 783.5,1345.9 785.7,1347.1 788,1348.3 790.3,1349.4 792.7,1350.4 795.1,1351.3 797.5,1352.3 799.9,1353.2 802.3,1354.1 804.7,1354.9 807.1,1355.8 809.5,1356.6 811.9,1357.3 814.4,1358 816.9,1358.7 819.4,1359.3 821.9,1359.8 824.4,1360.3 826.9,1360.7 829.4,1361 831.9,1361.3 834.4,1361.6 836.9,1361.9 839.4,1362.2 841.9,1362.5 844.4,1362.7 846.9,1362.9 849.4,1363.1 851.9,1363.3 854.4,1363.4 856.9,1363.5 859.4,1363.6 861.9,1363.6 864.4,1363.5 866.9,1363.3 869.4,1362.9 871.9,1362.5 874.4,1361.9 876.9,1361.2 879.3,1360.4 881.7,1359.6 884.1,1358.8 886.5,1357.9 888.9,1357 891.3,1356.1 893.7,1355.2 896.1,1354.3 898.5,1353.4 900.9,1352.5 903.3,1351.6 905.6,1350.6 907.9,1349.5 910.2,1348.5 912.5,1347.3 914.8,1346.1 917.1,1344.9 919.3,1343.7 921.5,1342.4 923.7,1341.1 925.9,1339.7 928,1338.3 930.1,1336.9 932.2,1335.4 934.3,1333.9 936.3,1332.3 938.3,1330.6 940.2,1328.9 942.1,1327.1 943.9,1325.4 945.7,1323.6 947.5,1321.7 949.2,1319.9 950.9,1318 952.6,1316 954.3,1314 955.9,1312.1 957.5,1310.1 959.1,1308.1 960.7,1306.1 962.3,1304 963.8,1302 965.3,1299.8 966.7,1297.6 968.1,1295.3 969.4,1293.1 970.7,1290.8 972,1288.5 973.3,1286.1 974.5,1283.9 975.7,1281.7 976.9,1279.4 978.1,1277 979.3,1274.6 980.5,1272.2 981.6,1269.9 982.7,1267.6 983.8,1265.3 984.9,1262.9 986,1260.5 987.1,1258.1 988.2,1255.7 989.3,1253.2 990.4,1250.8 991.5,1248.3 992.6,1245.8 993.7,1243.3 994.7,1241 995.7,1238.6 996.7,1236.3 997.7,1233.9 998.7,1231.4 999.7,1229 1000.7,1226.5 1001.7,1224 1002.7,1221.5 1003.7,1219 1004.7,1216.4 1005.7,1213.9 1006.7,1211.3 1007.6,1208.9 1008.5,1206.6 1009.4,1204.2 1010.3,1201.9 1011.2,1199.5 1012.1,1197 1013,1194.6 1013.9,1192.2 1014.8,1189.7 1015.7,1187.2 1016.6,1184.7 1017.5,1182.2 1018.4,1179.6 1019.3,1177 1020.2,1174.4 1021.1,1171.8 1021.9,1169.4 1022.7,1167 1023.5,1164.5 1024.3,1162 1025.1,1159.5 1025.9,1156.9 1026.7,1154.4 1027.5,1151.8 1028.3,1149.2 1029.1,1146.7 1029.9,1144.1 1030.7,1141.6 1031.5,1139.1 1032.3,1136.6 1033.1,1134.2 1033.9,1131.8 1034.7,1129.4 1035.6,1126.8 1036.5,1124.1 1037.4,1121.5 1038.3,1118.9 1039.2,1116.3 1040.1,1113.8 1041,1111.2 1041.9,1108.6 1042.8,1106.1 1043.7,1103.6 1044.6,1101 1045.5,1098.5 1046.4,1096 1047.3,1093.5 1048.2,1091 1049.1,1088.6 1050,1086.2 1050.9,1083.9 1051.9,1081.3 1052.9,1078.7 1053.8,1076.4 1054.7,1074 1055.6,1071.6 1056.5,1069.1 1057.4,1066.6 1058.3,1064 1059.1,1061.5 1059.9,1059.1 1060.7,1056.4 1061.4,1053.9 1062.1,1051.3 1062.8,1048.4 1063.4,1046 1064,1043.4 1064.6,1040.9 1065.2,1038.3 1065.8,1035.8 1066.4,1033.3 1067.1,1030.6 1067.8,1027.9 1068.5,1025.5 1069.3,1022.9 1070.2,1020.5 1071.2,1018 1072.2,1015.7 1073.3,1013.3 1074.4,1011 1075.6,1008.7 1076.8,1006.5 1078.1,1004.2 1079.4,1002 1080.8,999.8 1082.2,997.6 1083.6,995.4 1085,993.2 1086.4,990.9 1087.7,988.8 1089,986.5 1090.3,984.2 1091.5,981.9 1092.7,979.5 1093.8,977.2 1094.9,974.9 1096,972.6 1097.1,970.2 1098.2,967.9 1099.3,965.5 1100.4,963.1 1101.5,960.8 1102.6,958.5 1103.8,956.1 1105,953.7 1106.2,951.5 1107.5,949.1 1108.8,947 1110.2,944.8 1111.6,942.6 1113,940.5 1114.5,938.3 1116,936.1 1117.5,934 1119,931.9 1120.5,929.9 1122.1,927.8 1123.7,925.8 1125.3,923.8 1127,921.8 1128.7,919.9 1130.4,918 1132.2,916.1 1134,914.4 1135.9,912.6 1137.8,911 1139.8,909.4 1141.8,907.8 1143.9,906.3 1146,904.9 1148.1,903.6 1150.3,902.2 1152.5,900.8 1154.7,899.5 1156.9,898.2 1159.1,896.9 1161.3,895.6 1163.5,894.4 1165.7,893.2 1168,892 1170.3,890.9 1172.6,889.8 1174.9,888.8 1177.2,887.8 1179.6,886.8 1182,885.9 1184.4,885 1186.8,884.2 1189.2,883.4 1191.6,882.7 1194,881.9 1196.4,881.2 1198.9,880.5 1201.4,879.8 1203.9,879.3 1206.4,878.9 1208.9,878.7 1211.4,878.6 1213.9,878.5 1216.4,878.4 1218.9,878.4 1221.4,878.3 1223.9,878.2 1226.4,878.2 1228.9,878.1 1231.4,878 1233.9,877.9 1236.4,877.9 1238.9,877.8 1241.4,877.8 1243.9,877.9 1246.4,878.3 1248.9,878.9 1251.3,879.7 1253.7,880.5 1256.1,881.4 1258.5,882.2 1260.9,883 1263.3,883.8 1265.7,884.6 1268.1,885.4 1270.5,886.3 1272.9,887.2 1275.3,888.1 1277.7,889.1 1280.1,890.1 1282.5,891.1 1284.8,892 1287.1,893.1 1289.4,894.2 1291.7,895.3 1294,896.5 1296.2,897.8 1298.4,899.1 1300.5,900.5 1302.6,902 1304.7,903.6 1306.7,905.1 1308.7,906.7 1310.7,908.4 1312.7,910.1 1314.6,911.8 1316.5,913.4 1318.4,915.2 1320.3,916.9 1322.2,918.6 1324.1,920.4 1326,922.1 1327.9,923.9 1329.8,925.6 1331.7,927.3 1333.6,929.1 1335.5,930.9 1337.4,932.7 1339.2,934.5 1341,936.2 1342.8,938 1344.6,939.8 1346.4,941.6 1348.2,943.5 1350,945.3 1351.8,947.2 1353.6,949 1355.4,950.9 1357.2,952.8 1359,954.7 1360.8,956.6 1362.6,958.4 1364.4,960.4 1366.1,962.2 1367.8,964.1 1369.5,965.9 1371.2,967.8 1372.9,969.7 1374.6,971.6 1376.3,973.6 1378,975.5 1379.7,977.4 1381.4,979.3 1383.1,981.2 1384.8,983.1 1386.5,984.9 1388.2,986.8 1390,988.7 1391.8,990.6 1393.6,992.4 1395.4,994.2 1397.2,996 1399.1,997.8 1401,999.6 1402.9,1001.4 1404.8,1003.2 1406.6,1005 1408.4,1006.8 1410.2,1008.6 1412,1010.6 1413.7,1012.4 1415.4,1014.4 1417.1,1016.3 1418.8,1018.2 1420.5,1020.2 1422.2,1022.1 1423.9,1024.1 1425.6,1026 1427.3,1027.8 1429,1029.7 1430.7,1031.6 1432.4,1033.5 1434.1,1035.3 1435.8,1037.2 1437.5,1039 1439.2,1040.9 1440.9,1042.7 1442.6,1044.6 1444.3,1046.5 1446,1048.4 1447.7,1050.3 1449.4,1052.2 1451.1,1054 1452.8,1055.9 1454.6,1057.8 1456.4,1059.6 1458.2,1061.4 1460.1,1063.2 1462,1064.9 1463.9,1066.6 1465.8,1068.3 1467.7,1070 1469.6,1071.6 1471.5,1073.3 1473.4,1075.1 1475.3,1076.9 1477.2,1078.6 1479.1,1080.4 1481,1082.2 1482.9,1084 1484.8,1085.7 1486.7,1087.4 1488.6,1089.1 1490.5,1090.8 1492.4,1092.4 1494.4,1094.1 1496.4,1095.8 1498.4,1097.4 1500.4,1099.1 1502.4,1100.8 1504.4,1102.5 1506.4,1104.2 1508.4,1105.9 1510.4,1107.6 1512.4,1109.3 1514.4,1111 1516.3,1112.6 1518.2,1114.2 1520.1,1115.9 1522,1117.5 1523.9,1119.1 1525.8,1120.8 1527.7,1122.4 1529.6,1124.1 1531.5,1125.8 1533.4,1127.4 1535.3,1129.1 1537.3,1130.7 1539.3,1132.4 1541.3,1134 1543.3,1135.5 1545.3,1137 1547.4,1138.6 1549.5,1140.2 1551.6,1141.7 1553.6,1143.3 1555.6,1144.9 1557.6,1146.5 1559.5,1148.2 1561.4,1149.9 1563.3,1151.6 1565.2,1153.3 1567.1,1155 1569,1156.7 1571,1158.4 1573,1159.9 1575.1,1161.5 1577.2,1163 1579.3,1164.5 1581.4,1165.9 1583.5,1167.4 1585.6,1168.9 1587.7,1170.3 1589.8,1171.9 1591.8,1173.4 1593.8,1175 1595.8,1176.5 1597.8,1178.1 1599.8,1179.8 1601.8,1181.4 1603.8,1183 1605.8,1184.6 1607.8,1186.2 1609.8,1187.8 1611.8,1189.4 1613.8,1191 1615.8,1192.5 1617.9,1194.1 1620,1195.6 1622.1,1197.1 1624.2,1198.5 1626.3,1199.8 1628.5,1201.2 1630.7,1202.6 1632.9,1203.9 1635.1,1205.2 1637.3,1206.5 1639.5,1207.8 1641.7,1209 1643.9,1210.3 1646.1,1211.5 1648.3,1212.7 1650.5,1214 1652.7,1215.2 1654.9,1216.5 1657.1,1217.8 1659.3,1219.1 1661.5,1220.4 1663.7,1221.7 1665.9,1223.1 1668.1,1224.4 1670.3,1225.7 1672.5,1227.1 1674.7,1228.4 1676.9,1229.7 1679.1,1231 1681.3,1232.3 1683.5,1233.6 1685.7,1234.9 1687.9,1236.1 1690.1,1237.4 1692.3,1238.6 1694.5,1239.8 1696.7,1241 1698.9,1242.2 1701.2,1243.5 1703.5,1244.7 1705.8,1245.9 1708.1,1247.1 1710.4,1248.3 1712.7,1249.5 1715,1250.7 1717.3,1251.8 1719.6,1253 1721.9,1254.1 1724.2,1255.3 1726.5,1256.4 1728.8,1257.5 1731.1,1258.6 1733.4,1259.7 1735.7,1260.8 1738,1261.9 1740.3,1262.9 1742.6,1264 1744.9,1265.1 1747.2,1266.1 1749.5,1267.1 1751.8,1268.1 1754.1,1269.1 1756.4,1270.1 1758.7,1271.1 1761.1,1272.1 1763.5,1273.2 1765.9,1274.2 1768.3,1275.2 1770.7,1276.2 1773.1,1277.2 1775.5,1278.2 1777.9,1279.2 1780.3,1280.2 1782.7,1281.1 1785.1,1282 1787.5,1282.9 1789.9,1283.8 1792.3,1284.7 1794.7,1285.5 1797.1,1286.2 1799.5,1287 1802,1287.7 1804.5,1288.4 1807,1289 1809.5,1289.7 1812,1290.3 1814.5,1291 1817,1291.6 1819.5,1292.2 1822,1292.8 1824.5,1293.4 1827,1294 1829.5,1294.6 1832,1295.3 1834.5,1296 1837,1296.6 1839.5,1297.3 1842,1298 1844.5,1298.6 1847,1299.3 1849.5,1300 1852,1300.6 1854.5,1301.3 1857,1302 1857,1302" fill="none" stroke="#0000ff" stroke-width="11.5" stroke-linecap="round" stroke-linejoin="round" stroke-dasharray="0.01 17.56"/>
<path d="M353.5,1358.5 356,1358.5 358.5,1358.5 361,1358.5 363.5,1358.5 366,1358.5 368.5,1358.4 371,1358.4 373.5,1358.4 376,1358.4 378.5,1358.3 381,1358.3 383.5,1358.3 386,1358.2 388.5,1358.2 391,1358.2 393.5,1358.1 396,1358.1 398.5,1358 401,1358 403.5,1357.9 406,1357.8 408.5,1357.7 411,1357.5 413.5,1357.3 416,1357.1 418.5,1356.8 421,1356.5 423.5,1356.2 426,1355.8 428.5,1355.2 430.9,1354.4 433.3,1353.4 435.6,1352.4 437.9,1351.4 440.3,1350.4 442.7,1349.5 445.1,1348.6 447.5,1347.6 449.9,1346.7 452.3,1345.7 454.6,1344.7 456.9,1343.6 459.2,1342.5 461.5,1341.4 463.8,1340.2 466,1338.9 468.2,1337.6 470.3,1336.2 472.4,1334.7 474.4,1333.1 476.4,1331.5 478.3,1329.7 480.1,1327.8 481.8,1325.8 483.4,1323.7 484.9,1321.6 486.4,1319.4 487.8,1317.3 489.2,1315.1 490.5,1313 491.8,1310.7 493,1308.3 494.1,1306 495.2,1303.5 496.2,1300.9 497.1,1298.3 497.9,1295.8 498.7,1293.1 499.4,1290.7 500.1,1288.3 500.8,1285.7 501.5,1283.2 502.2,1280.6 502.9,1277.9 503.6,1275.2 504.2,1272.8 504.8,1270.2 505.4,1267.5 506,1264.7 506.5,1262.3 507,1259.7 507.5,1257 508,1254 508.4,1251.3 508.8,1248.5 509.2,1245.4 509.6,1242.2 510,1239 510.3,1236.5 510.6,1234 510.9,1231.4 511.2,1228.9 511.6,1225.6 512,1222.4 512.4,1219.3 512.8,1216.4 513.2,1213.6 513.6,1211 514,1208.3 514.4,1205.7 514.8,1203.2 515.2,1200.7 515.7,1197.7 516.2,1194.6 516.7,1191.6 517.2,1188.7 517.7,1185.8 518.2,1182.8 518.7,1179.9 519.2,1177 519.7,1174 520.2,1171.1 520.7,1168 521.2,1165 521.6,1162.5 522,1160 522.4,1157.5 522.9,1154.4 523.4,1151.4 523.9,1148.5 524.4,1145.6 524.9,1142.7 525.4,1139.7 525.9,1136.8 526.4,1133.8 526.9,1130.8 527.3,1128.3 527.7,1125.7 528.1,1123 528.5,1120.3 528.9,1117.5 529.3,1114.6 529.7,1111.6 530.1,1108.4 530.5,1105.2 530.8,1102.6 531.1,1100 531.4,1097.2 531.7,1094.1 532,1090.7 532.3,1087.2 532.6,1083.4 532.8,1080.9 533,1078.3 533.2,1075.6 533.4,1073 533.6,1070.3 533.8,1067.6 534,1065 534.2,1062.4 534.4,1059.8 534.6,1057.2 534.9,1053.5 535.2,1050 535.5,1046.6 535.8,1043.3 536.1,1040 536.4,1036.8 536.7,1033.7 537,1030.6 537.3,1027.5 537.6,1024.4 537.9,1021.4 538.2,1018.4 538.5,1015.3 538.8,1012.3 539.1,1009.2 539.4,1006.2 539.7,1003 540,999.9 540.3,996.7 540.6,993.5 540.9,990.2 541.2,986.8 541.5,983.3 541.8,979.8 542.1,976.3 542.4,972.7 542.7,969.1 543,965.5 543.3,961.9 543.6,958.2 543.9,954.5 544.2,950.8 544.4,948.3 544.6,945.8 544.8,943.2 545,940.6 545.2,938 545.4,935.4 545.6,932.8 545.8,930.1 546,927.4 546.2,924.7 546.4,921.9 546.6,919.1 546.8,916.3 547,913.4 547.2,910.5 547.4,907.5 547.6,904.6 547.8,901.5 548,898.5 548.2,895.4 548.4,892.2 548.6,889 548.8,885.8 549,882.4 549.2,878.8 549.4,875.1 549.6,871.3 549.8,867.4 550,863.4 550.2,859.4 550.4,855.2 550.6,851 550.8,846.8 551,842.5 551.2,838.2 551.4,834 551.6,829.7 551.8,825.4 552,821.2 552.2,817 552.4,812.9 552.6,808.9 552.8,804.9 553,801.1 553.2,797.3 553.4,793.7 553.6,790.2 553.8,786.8 554,783.5 554.2,780.2 554.4,777.1 554.6,773.9 554.8,770.9 555,767.9 555.2,764.9 555.4,762 555.6,759.1 555.8,756.2 556,753.3 556.2,750.4 556.4,747.5 556.6,744.6 556.8,741.7 557,738.7 557.2,735.7 557.4,732.7 557.6,729.6 557.8,726.4 558,723.2 558.2,719.9 558.4,716.5 558.6,713 558.8,709.4 559,705.7 559.2,701.9 559.4,698 559.6,693.9 559.8,689.5 560,684.9 560.2,680.2 560.4,675.4 560.6,670.4 560.7,667.9 560.8,665.3 560.9,662.7 561,660.1 561.1,657.6 561.2,654.9 561.3,652.3 561.4,649.7 561.5,647.1 561.6,644.5 561.7,641.9 561.8,639.2 561.9,636.6 562,634.1 562.1,631.5 562.2,628.9 562.3,626.4 562.4,623.9 562.6,619 562.8,614.1 563,609.5 563.2,604.9 563.4,600.3 563.6,595.9 563.8,591.4 564,587 564.2,582.7 564.4,578.3 564.6,574 564.8,569.8 565,565.5 565.2,561.3 565.4,557.1 565.6,552.9 565.8,548.7 566,544.5 566.2,540.3 566.4,536.1 566.6,531.8 566.8,527.6 567,523.3 567.2,519 567.4,514.7 567.6,510.3 567.8,505.9 568,501.5 568.2,497 568.4,492.5 568.6,487.9 568.8,483.2 569,478.5 569.2,473.7 569.4,468.9 569.6,463.8 569.7,461.3 569.8,458.7 569.9,456.1 570,453.5 570.1,450.8 570.2,448.1 570.3,445.4 570.4,442.7 570.5,439.9 570.6,437.2 570.7,434.4 570.8,431.6 570.9,428.7 571,425.9 571.1,423.1 571.2,420.2 571.3,417.4 571.4,414.5 571.5,411.6 571.6,408.8 571.7,405.9 571.8,403 571.9,400.1 572,397.3 572.1,394.4 572.2,391.5 572.3,388.7 572.4,385.9 572.5,383 572.6,380.2 572.7,377.4 572.8,374.6 572.9,371.8 573,369.1 573.1,366.3 573.2,363.6 573.3,360.9 573.4,358.2 573.5,355.6 573.6,352.9 573.7,350.4 573.8,347.8 573.9,345.3 574,342.8 574.2,337.9 574.4,333.1 574.6,328.5 574.8,323.9 575,319.4 575.2,314.8 575.4,310.3 575.6,305.8 575.8,301.4 576,297 576.2,292.6 576.4,288.3 576.6,284 576.8,279.7 577,275.6 577.2,271.5 577.4,267.4 577.6,263.4 577.8,259.5 578,255.7 578.2,252 578.4,248.3 578.6,244.7 578.8,241.2 579,237.9 579.2,234.6 579.4,231.4 579.6,228.3 579.8,225.4 580,222.5 580.2,219.7 580.4,216.8 580.6,214 580.8,211.3 581,208.5 581.2,205.9 581.4,203.3 581.6,200.7 581.9,197 582.2,193.5 582.5,190.1 582.8,187 583.1,184.1 583.4,181.5 583.8,178.4 584.2,175.7 584.6,173.1 585,170.6 585.4,168.1 585.9,165.1 586.4,162.4 586.9,159.8 587.5,157.2 588.3,154.6 589.9,153.2 591.1,155.4 591.9,158.2 592.5,160.8 593,163.2 593.5,165.9 594,168.8 594.5,171.9 594.9,174.4 595.3,177.2 595.6,179.8 595.9,183 596.2,186.5 596.4,189 596.6,191.7 596.8,194.5 597,197.4 597.2,200.3 597.4,203.4 597.6,206.5 597.8,209.6 598,212.8 598.2,216 598.4,219.2 598.6,222.3 598.8,225.4 599,228.5 599.2,231.7 599.4,234.9 599.6,238.2 599.8,241.6 600,245 600.2,248.5 600.4,252.1 600.6,255.6 600.8,259.3 601,263 601.2,266.7 601.4,270.5 601.6,274.3 601.8,278.1 602,282 602.2,286 602.4,289.9 602.6,293.9 602.8,297.9 603,302 603.2,306 603.4,310.1 603.6,314.2 603.8,318.3 604,322.5 604.2,326.6 604.4,330.8 604.6,335 604.8,339.3 605,343.7 605.2,348.1 605.4,352.7 605.6,357.3 605.8,361.9 606,366.6 606.2,371.3 606.4,376.1 606.6,380.9 606.8,385.8 607,390.7 607.2,395.5 607.4,400.4 607.6,405.3 607.8,410.2 608,415.1 608.2,420 608.4,424.9 608.6,429.7 608.8,434.5 609,439.3 609.2,444.1 609.4,448.7 609.6,453.4 609.8,458 610,462.5 610.2,466.9 610.4,471.3 610.6,475.6 610.8,479.9 611,484.1 611.2,488.2 611.4,492.4 611.6,496.5 611.8,500.5 612,504.6 612.2,508.6 612.4,512.5 612.6,516.5 612.8,520.4 613,524.3 613.2,528.2 613.4,532.1 613.6,536 613.8,539.9 614,543.7 614.2,547.6 614.4,551.5 614.6,555.3 614.8,559.2 615,563.1 615.2,567 615.4,571 615.6,574.9 615.8,578.9 616,582.9 616.2,586.9 616.4,591 616.6,595 616.8,599.2 617,603.3 617.2,607.5 617.4,611.8 617.6,616.2 617.8,620.6 618,625.3 618.2,630 618.4,634.8 618.6,639.6 618.8,644.5 619,649.4 619.2,654.3 619.4,659.1 619.6,664 619.8,668.7 620,673.4 620.2,677.9 620.4,682.3 620.6,686.6 620.8,690.7 621,694.6 621.2,698.2 621.4,701.7 621.6,705.1 621.8,708.5 622,711.8 622.2,715.1 622.4,718.3 622.6,721.4 622.8,724.6 623,727.7 623.2,730.7 623.4,733.7 623.6,736.6 623.8,739.6 624,742.4 624.2,745.2 624.4,748 624.6,750.8 624.8,753.4 625,756.1 625.2,758.7 625.4,761.3 625.6,763.8 625.9,767.5 626.2,771.1 626.5,774.6 626.8,778 627.1,781.3 627.4,784.6 627.7,787.7 628,790.7 628.3,793.7 628.6,796.6 628.9,799.4 629.2,802.1 629.5,804.7 629.8,807.3 630.1,809.9 630.5,813.1 630.9,816.3 631.3,819.4 631.7,822.4 632.1,825.3 632.5,828.2 632.9,831 633.3,833.7 633.7,836.4 634.1,839.1 634.5,841.7 634.9,844.3 635.3,846.8 635.7,849.4 636.1,852 636.5,854.5 636.9,857.1 637.3,859.7 637.7,862.3 638.1,865 638.5,867.6 638.9,870.4 639.3,873.2 639.7,876 640.1,878.9 640.5,881.9 640.9,885 641.3,888.2 641.7,891.5 642,894 642.3,896.6 642.6,899.3 642.9,902 643.2,904.7 643.5,907.5 643.8,910.3 644.1,913.1 644.4,916 644.7,918.8 645,921.7 645.3,924.6 645.6,927.5 645.9,930.4 646.2,933.3 646.5,936.2 646.8,939.1 647.1,942 647.4,944.8 647.7,947.6 648,950.4 648.3,953.2 648.6,955.9 648.9,958.5 649.2,961.2 649.5,963.7 649.8,966.2 650.2,969.4 650.6,972.5 651,975.5 651.4,978.3 651.8,981 652.2,983.5 652.7,986.4 653.2,989.1 653.7,991.6 654.3,994.4 654.9,997.2 655.5,999.8 656.1,1002.5 656.7,1005.3 657.3,1008.1 657.8,1010.7 658.3,1013.4 658.8,1016.4 659.2,1019 659.6,1021.7 660,1024.9 660.3,1027.5 660.6,1030.4 660.9,1033.4 661.2,1036.5 661.5,1039.7 661.8,1043 662.1,1046.2 662.4,1049.5 662.7,1052.7 663,1055.8 663.3,1058.8 663.6,1061.6 663.9,1064.2 664.3,1067.4 664.7,1070.5 665.1,1073.4 665.5,1076.3 665.9,1079.2 666.3,1081.9 666.7,1084.6 667.1,1087.2 667.5,1089.8 667.9,1092.3 668.3,1094.8 668.8,1097.8 669.3,1100.8 669.8,1103.8 670.3,1106.7 670.8,1109.7 671.3,1112.6 671.8,1115.4 672.3,1118.3 672.8,1121.1 673.3,1123.9 673.8,1126.6 674.3,1129.4 674.8,1132.1 675.3,1134.7 675.8,1137.3 676.3,1139.9 676.8,1142.5 677.3,1145 677.8,1147.4 678.4,1150.3 679,1153.1 679.6,1155.9 680.2,1158.6 680.8,1161.2 681.4,1163.8 682,1166.3 682.6,1168.7 683.2,1171.2 683.9,1174 684.6,1176.8 685.3,1179.5 686,1182.2 686.7,1184.9 687.4,1187.5 688.1,1190.1 688.8,1192.6 689.5,1195.1 690.2,1197.6 690.9,1200.1 691.7,1202.8 692.5,1205.5 693.3,1208.1 694.1,1210.7 694.9,1213.2 695.7,1215.7 696.5,1218.1 697.3,1220.5 698.2,1223.1 699.1,1225.7 700,1228.1 700.9,1230.6 701.8,1232.9 702.8,1235.4 703.8,1237.8 704.8,1240.2 705.9,1242.7 707,1245.1 708.1,1247.4 709.2,1249.7 710.4,1252.1 711.6,1254.5 712.8,1256.8 714,1259.2 715.2,1261.4 716.4,1263.7 717.6,1266 718.8,1268.3 720,1270.7 721.2,1273.1 722.4,1275.5 723.6,1277.9 724.8,1280.3 726,1282.7 727.2,1285.1 728.4,1287.4 729.6,1289.7 730.8,1292 732.1,1294.3 733.4,1296.6 734.7,1298.7 736.1,1300.9 737.6,1303.1 739.2,1305.2 740.9,1307.1 742.7,1308.9 744.6,1310.6 746.6,1312.1 748.7,1313.7 750.8,1315.2 752.9,1316.7 754.9,1318.3 756.9,1320 758.8,1321.6 760.7,1323.2 762.7,1324.9 764.7,1326.5 766.8,1328 768.9,1329.4 771.1,1330.7 773.3,1332 775.5,1333.3 777.7,1334.5 780,1335.7 782.3,1336.9 784.6,1338 786.9,1339.2 789.2,1340.2 791.5,1341.3 793.8,1342.3 796.1,1343.3 798.4,1344.3 800.7,1345.3 803,1346.3 805.3,1347.3 807.6,1348.3 809.9,1349.3 812.3,1350.3 814.7,1351.3 817.1,1352.2 819.5,1353.1 821.9,1353.9 824.4,1354.6 826.9,1355.2 829.4,1355.7 831.9,1356.1 834.4,1356.6 836.9,1357 839.4,1357.4 841.9,1357.7 844.4,1358.1 846.9,1358.4 849.4,1358.7 851.9,1358.9 854.4,1359.1 856.9,1359.3 859.4,1359.5 861.9,1359.6 864.4,1359.7 866.9,1359.8 869.4,1359.9 871.9,1360 874.4,1360 876.9,1359.9 879.4,1359.3 881.8,1358.3 884.1,1357.1 886.3,1355.7 888.4,1354.3 890.5,1352.9 892.6,1351.5 894.8,1350.1 897,1348.8 899.2,1347.5 901.4,1346.2 903.6,1344.8 905.8,1343.4 907.9,1342 910,1340.6 912.1,1339.1 914.2,1337.5 916.2,1336 918.2,1334.3 920.2,1332.6 922.1,1331 924,1329.3 925.9,1327.6 927.8,1325.7 929.6,1324 931.4,1322.1 933.2,1320.2 934.9,1318.3 936.6,1316.4 938.3,1314.4 939.9,1312.5 941.5,1310.4 943.1,1308.4 944.6,1306.3 946.1,1304.2 947.6,1302.1 949,1300 950.4,1297.7 951.7,1295.5 953,1293.1 954.2,1290.8 955.4,1288.4 956.5,1286.2 957.6,1283.8 958.7,1281.4 959.8,1278.9 960.9,1276.4 961.9,1274.1 962.9,1271.8 963.9,1269.4 964.9,1267 965.9,1264.5 966.9,1262.1 967.9,1259.7 968.9,1257.2 969.9,1254.8 970.9,1252.3 971.9,1249.9 972.9,1247.5 973.9,1245 974.9,1242.5 975.9,1240 976.9,1237.5 977.9,1234.9 978.8,1232.6 979.7,1230.2 980.6,1227.8 981.5,1225.4 982.4,1222.9 983.3,1220.5 984.2,1217.9 985.1,1215.4 986,1212.8 986.9,1210.2 987.8,1207.5 988.6,1205.1 989.4,1202.7 990.2,1200.2 991,1197.7 991.8,1195.2 992.6,1192.5 993.4,1189.8 994.1,1187.3 994.8,1184.9 995.5,1182.3 996.2,1179.8 996.9,1177.2 997.6,1174.7 998.3,1172.1 999,1169.5 999.7,1166.9 1000.4,1164.4 1001.1,1161.8 1001.8,1159.3 1002.5,1156.7 1003.2,1154.1 1003.9,1151.5 1004.6,1148.9 1005.3,1146.2 1006,1143.6 1006.7,1141 1007.4,1138.3 1008.1,1135.7 1008.8,1133 1009.5,1130.4 1010.2,1127.7 1010.9,1125.1 1011.6,1122.4 1012.3,1119.8 1013,1117.2 1013.7,1114.6 1014.4,1112 1015.1,1109.5 1015.8,1107 1016.5,1104.5 1017.2,1102 1017.9,1099.5 1018.6,1097.1 1019.3,1094.6 1020,1092.2 1020.7,1089.7 1021.4,1087.3 1022.1,1084.8 1022.8,1082.3 1023.5,1079.8 1024.2,1077.3 1024.9,1074.7 1025.6,1072.1 1026.3,1069.5 1027,1066.8 1027.7,1064 1028.4,1061.2 1029,1058.7 1029.6,1056.1 1030.2,1053.5 1030.8,1050.9 1031.4,1048.2 1032,1045.5 1032.6,1042.7 1033.2,1040 1033.8,1037.3 1034.4,1034.6 1035,1031.9 1035.6,1029.3 1036.2,1026.7 1036.8,1024.1 1037.4,1021.5 1038,1019 1038.6,1016.4 1039.2,1013.9 1039.8,1011.4 1040.4,1008.8 1041,1006.3 1041.6,1003.8 1042.2,1001.3 1042.8,998.8 1043.4,996.4 1044,993.9 1044.6,991.4 1045.2,989 1045.8,986.6 1046.5,983.8 1047.2,981 1047.9,978.2 1048.6,975.4 1049.3,972.7 1050,970 1050.7,967.3 1051.4,964.6 1052.1,961.9 1052.8,959.3 1053.5,956.7 1054.2,954 1054.9,951.4 1055.6,948.8 1056.3,946.3 1057,943.7 1057.7,941.1 1058.4,938.5 1059.1,935.9 1059.8,933.3 1060.5,930.8 1061.2,928.2 1061.9,925.6 1062.6,923 1063.3,920.4 1064,917.9 1064.7,915.3 1065.4,912.8 1066.1,910.2 1066.8,907.7 1067.5,905.1 1068.2,902.6 1068.9,900 1069.6,897.5 1070.3,894.9 1071,892.3 1071.7,889.8 1072.4,887.2 1073.1,884.6 1073.8,882 1074.5,879.3 1075.2,876.7 1075.9,874 1076.6,871.4 1077.3,868.8 1078,866.1 1078.7,863.5 1079.4,860.9 1080.1,858.3 1080.8,855.8 1081.5,853.3 1082.2,850.8 1082.9,848.3 1083.6,845.8 1084.3,843.3 1085,840.8 1085.7,838.3 1086.4,835.8 1087.1,833.4 1087.9,830.7 1088.7,828.1 1089.5,825.7 1090.4,823.1 1091.3,820.7 1092.3,818.3 1093.3,816 1094.4,813.6 1095.5,811.3 1096.7,808.9 1097.9,806.6 1099.1,804.3 1100.4,802 1101.7,799.6 1103,797.3 1104.2,795 1105.4,792.7 1106.6,790.3 1107.7,788 1108.8,785.6 1109.9,783.1 1110.9,780.8 1111.9,778.4 1112.9,776.1 1113.9,773.6 1114.9,771.2 1115.9,768.9 1116.9,766.5 1117.9,764.2 1119,761.8 1120.1,759.4 1121.3,757 1122.5,754.7 1123.8,752.5 1125.2,750.3 1126.7,748.2 1128.2,746.1 1129.8,744 1131.4,742 1133.1,740 1134.8,738.1 1136.5,736.3 1138.3,734.4 1140.1,732.6 1141.9,730.8 1143.7,729 1145.5,727.3 1147.3,725.6 1149.1,723.8 1150.9,722 1152.7,720.2 1154.5,718.4 1156.3,716.5 1158.1,714.7 1159.9,712.9 1161.7,711.1 1163.6,709.3 1165.5,707.6 1167.4,705.9 1169.4,704.3 1171.5,702.7 1173.6,701.3 1175.8,700.1 1178.1,698.9 1180.4,697.7 1182.7,696.6 1185,695.5 1187.3,694.5 1189.7,693.5 1192.1,692.6 1194.5,691.7 1196.9,690.9 1199.3,690.2 1201.8,689.5 1204.3,689 1206.8,688.5 1209.3,688.1 1211.8,687.8 1214.3,687.5 1216.8,687.1 1219.3,686.9 1221.8,686.6 1224.3,686.3 1226.8,686.1 1229.3,685.9 1231.8,685.7 1234.3,685.6 1236.8,685.5 1239.3,685.4 1241.8,685.4 1244.3,685.5 1246.8,685.8 1249.3,686.3 1251.8,686.9 1254.2,687.6 1256.6,688.4 1259,689.4 1261.4,690.4 1263.7,691.4 1266,692.5 1268.3,693.6 1270.6,694.7 1272.9,695.8 1275.1,697 1277.2,698.4 1279.3,700 1281.3,701.7 1283.2,703.3 1285.1,705.1 1286.9,706.9 1288.7,708.7 1290.5,710.5 1292.3,712.4 1294.1,714.2 1295.9,716.1 1297.7,718 1299.5,719.8 1301.3,721.5 1303.2,723.3 1305.1,725.1 1307,726.9 1308.9,728.7 1310.8,730.5 1312.7,732.3 1314.5,734 1316.3,735.8 1318.1,737.6 1319.9,739.4 1321.7,741.3 1323.5,743.2 1325.2,745 1326.9,746.9 1328.6,748.9 1330.3,750.9 1331.9,752.9 1333.5,754.9 1335.1,757 1336.7,759.1 1338.2,761.1 1339.7,763.1 1341.2,765.2 1342.7,767.3 1344.2,769.4 1345.7,771.6 1347.2,773.7 1348.7,775.9 1350.2,778 1351.7,780.2 1353.2,782.3 1354.7,784.4 1356.2,786.6 1357.7,788.8 1359.2,791 1360.7,793.2 1362.1,795.3 1363.5,797.4 1364.9,799.5 1366.3,801.6 1367.7,803.7 1369.1,805.8 1370.5,808 1371.9,810.1 1373.3,812.2 1374.7,814.4 1376.1,816.5 1377.5,818.6 1378.9,820.8 1380.3,822.9 1381.7,825 1383.1,827.1 1384.5,829.2 1385.9,831.4 1387.3,833.5 1388.7,835.6 1390.1,837.7 1391.5,839.8 1392.9,841.9 1394.3,844 1395.7,846.1 1397.1,848.2 1398.5,850.3 1399.9,852.4 1401.3,854.5 1402.7,856.6 1404.1,858.7 1405.5,860.8 1406.9,862.9 1408.3,865 1409.7,867.1 1411.1,869.2 1412.5,871.3 1413.9,873.4 1415.3,875.5 1416.7,877.6 1418.1,879.6 1419.5,881.7 1420.9,883.8 1422.3,885.9 1423.7,888 1425.1,890.1 1426.5,892.2 1427.9,894.3 1429.3,896.3 1430.7,898.4 1432.2,900.6 1433.7,902.8 1435.2,905 1436.7,907.2 1438.2,909.4 1439.7,911.5 1441.2,913.7 1442.7,915.8 1444.2,917.9 1445.7,919.9 1447.2,922 1448.7,924.1 1450.2,926.1 1451.7,928.2 1453.2,930.2 1454.7,932.2 1456.2,934.2 1457.7,936.3 1459.2,938.3 1460.8,940.4 1462.4,942.5 1464,944.6 1465.6,946.7 1467.2,948.8 1468.8,950.9 1470.4,953 1472,955 1473.6,957.1 1475.2,959.2 1476.8,961.2 1478.4,963.3 1480,965.3 1481.6,967.4 1483.2,969.4 1484.8,971.4 1486.4,973.4 1488,975.5 1489.6,977.5 1491.2,979.5 1492.8,981.5 1494.4,983.4 1496,985.4 1497.6,987.4 1499.2,989.4 1500.8,991.3 1502.4,993.3 1504,995.2 1505.6,997.2 1507.2,999.1 1508.8,1001.1 1510.4,1003 1512.1,1005 1513.8,1007.1 1515.5,1009.1 1517.2,1011.1 1518.9,1013.1 1520.6,1015.1 1522.3,1017.1 1524,1019.1 1525.7,1021 1527.4,1023 1529.1,1024.9 1530.8,1026.9 1532.5,1028.8 1534.2,1030.8 1535.9,1032.7 1537.6,1034.6 1539.3,1036.6 1541,1038.5 1542.7,1040.4 1544.4,1042.4 1546.1,1044.3 1547.8,1046.3 1549.5,1048.2 1551.2,1050.2 1552.9,1052.1 1554.6,1054.1 1556.3,1056 1558,1058 1559.7,1059.9 1561.4,1061.9 1563.1,1063.8 1564.8,1065.8 1566.5,1067.7 1568.2,1069.6 1569.9,1071.5 1571.6,1073.4 1573.3,1075.3 1575,1077.2 1576.7,1079 1578.4,1080.9 1580.2,1082.8 1582,1084.7 1583.8,1086.6 1585.6,1088.4 1587.4,1090.3 1589.2,1092.1 1591,1093.9 1592.8,1095.7 1594.6,1097.5 1596.4,1099.3 1598.2,1101.1 1600,1102.8 1601.8,1104.6 1603.6,1106.3 1605.4,1108.1 1607.3,1109.9 1609.2,1111.7 1611.1,1113.5 1613,1115.3 1614.9,1117.1 1616.8,1118.9 1618.7,1120.7 1620.6,1122.5 1622.5,1124.3 1624.4,1126.1 1626.3,1127.9 1628.2,1129.7 1630.1,1131.5 1632,1133.3 1633.9,1135.1 1635.8,1136.9 1637.7,1138.7 1639.6,1140.5 1641.5,1142.2 1643.4,1144 1645.3,1145.7 1647.2,1147.5 1649.1,1149.2 1651,1150.8 1652.9,1152.5 1654.8,1154.1 1656.8,1155.8 1658.8,1157.5 1660.8,1159.1 1662.8,1160.7 1664.8,1162.2 1666.8,1163.8 1668.8,1165.3 1670.9,1166.8 1673,1168.4 1675.1,1169.9 1677.2,1171.4 1679.3,1172.9 1681.4,1174.4 1683.5,1175.9 1685.6,1177.4 1687.7,1178.9 1689.8,1180.4 1691.9,1181.8 1694,1183.3 1696.1,1184.8 1698.2,1186.3 1700.3,1187.8 1702.4,1189.3 1704.5,1190.9 1706.6,1192.4 1708.6,1194 1710.6,1195.5 1712.6,1197 1714.6,1198.6 1716.6,1200.2 1718.6,1201.8 1720.6,1203.3 1722.6,1204.9 1724.6,1206.5 1726.6,1208.1 1728.6,1209.7 1730.6,1211.2 1732.6,1212.7 1734.6,1214.3 1736.7,1215.8 1738.8,1217.4 1740.9,1218.9 1743,1220.3 1745.1,1221.7 1747.2,1223.1 1749.4,1224.5 1751.6,1225.9 1753.8,1227.2 1756,1228.5 1758.2,1229.7 1760.4,1231 1762.6,1232.2 1764.8,1233.4 1767.1,1234.7 1769.4,1235.9 1771.7,1237.1 1774,1238.2 1776.3,1239.4 1778.6,1240.5 1780.9,1241.7 1783.2,1242.8 1785.5,1243.9 1787.8,1245 1790.1,1246.1 1792.4,1247.2 1794.7,1248.2 1797,1249.3 1799.3,1250.4 1801.6,1251.4 1803.9,1252.4 1806.2,1253.4 1808.5,1254.4 1810.8,1255.4 1813.2,1256.4 1815.6,1257.4 1818,1258.4 1820.4,1259.4 1822.8,1260.3 1825.2,1261.2 1827.6,1262.2 1830,1263.1 1832.4,1263.9 1834.8,1264.8 1837.2,1265.6 1839.6,1266.5 1842,1267.3 1844.4,1268.1 1846.8,1268.9 1849.2,1269.6 1851.6,1270.4 1854,1271.1 1856.4,1271.8 1857,1272" fill="none" stroke="#00ff00" stroke-width="11.5" stroke-linecap="round" stroke-linejoin="round" stroke-dasharray="31 29 5 29 5 29"/>
<path d="M353.5,1358.5 356,1358.5 358.5,1358.5 361,1358.5 363.5,1358.5 366,1358.5 368.5,1358.4 371,1358.4 373.5,1358.4 376,1358.4 378.5,1358.3 381,1358.3 383.5,1358.3 386,1358.2 388.5,1358.2 391,1358.2 393.5,1358.1 396,1358.1 398.5,1358 401,1358 403.5,1357.9 406,1357.8 408.5,1357.7 411,1357.5 413.5,1357.3 416,1357.1 418.5,1356.8 421,1356.5 423.5,1356.2 426,1355.8 428.5,1355.2 430.9,1354.4 433.3,1353.4 435.6,1352.4 437.9,1351.4 440.3,1350.4 442.7,1349.5 445.1,1348.6 447.5,1347.6 449.9,1346.7 452.3,1345.7 454.6,1344.7 456.9,1343.6 459.2,1342.5 461.5,1341.4 463.8,1340.2 466,1338.9 468.2,1337.6 470.3,1336.2 472.4,1334.7 474.4,1333.1 476.4,1331.5 478.3,1329.7 480.1,1327.8 481.8,1325.8 483.4,1323.7 484.9,1321.6 486.4,1319.4 487.8,1317.3 489.2,1315.1 490.5,1313 491.8,1310.7 493,1308.3 494.1,1306 495.2,1303.5 496.2,1300.9 497.1,1298.3 497.9,1295.8 498.7,1293.1 499.4,1290.7 500.1,1288.3 500.8,1285.7 501.5,1283.2 502.2,1280.6 502.9,1277.9 503.6,1275.2 504.2,1272.8 504.8,1270.2 505.4,1267.5 506,1264.7 506.5,1262.3 507,1259.7 507.5,1257 508,1254 508.4,1251.3 508.8,1248.5 509.2,1245.4 509.6,1242.2 510,1239 510.3,1236.5 510.6,1234 510.9,1231.4 511.2,1228.9 511.6,1225.6 512,1222.4 512.4,1219.3 512.8,1216.4 513.2,1213.6 513.6,1211 514,1208.3 514.4,1205.7 514.8,1203.2 515.2,1200.7 515.7,1197.7 516.2,1194.6 516.7,1191.6 517.2,1188.7 517.7,1185.8 518.2,1182.8 518.7,1179.9 519.2,1177 519.7,1174 520.2,1171.1 520.7,1168 521.2,1165 521.6,1162.5 522,1160 522.4,1157.5 522.9,1154.4 523.4,1151.4 523.9,1148.5 524.4,1145.6 524.9,1142.7 525.4,1139.7 525.9,1136.8 526.4,1133.8 526.9,1130.8 527.3,1128.3 527.7,1125.7 528.1,1123 528.5,1120.3 528.9,1117.5 529.3,1114.6 529.7,1111.6 530.1,1108.4 530.5,1105.2 530.8,1102.6 531.1,1100 531.4,1097.2 531.7,1094.1 532,1090.7 532.3,1087.2 532.6,1083.4 532.8,1080.9 533,1078.3 533.2,1075.6 533.4,1073 533.6,1070.3 533.8,1067.6 534,1065 534.2,1062.4 534.4,1059.8 534.6,1057.2 534.9,1053.5 535.2,1050 535.5,1046.6 535.8,1043.3 536.1,1040 536.4,1036.8 536.7,1033.7 537,1030.6 537.3,1027.5 537.6,1024.4 537.9,1021.4 538.2,1018.4 538.5,1015.3 538.8,1012.3 539.1,1009.2 539.4,1006.2 539.7,1003 540,999.9 540.3,996.7 540.6,993.5 540.9,990.2 541.2,986.8 541.5,983.3 541.8,979.8 542.1,976.3 542.4,972.7 542.7,969.1 543,965.5 543.3,961.9 543.6,958.2 543.9,954.5 544.2,950.8 544.4,948.3 544.6,945.8 544.8,943.2 545,940.6 545.2,938 545.4,935.4 545.6,932.8 545.8,930.1 546,927.4 546.2,924.7 546.4,921.9 546.6,919.1 546.8,916.3 547,913.4 547.2,910.5 547.4,907.5 547.6,904.6 547.8,901.5 548,898.5 548.2,895.4 548.4,892.2 548.6,889 548.8,885.8 549,882.4 549.2,878.8 549.4,875.1 549.6,871.3 549.8,867.4 550,863.4 550.2,859.4 550.4,855.2 550.6,851 550.8,846.8 551,842.5 551.2,838.2 551.4,834 551.6,829.7 551.8,825.4 552,821.2 552.2,817 552.4,812.9 552.6,808.9 552.8,804.9 553,801.1 553.2,797.3 553.4,793.7 553.6,790.2 553.8,786.8 554,783.5 554.2,780.2 554.4,777.1 554.6,773.9 554.8,770.9 555,767.9 555.2,764.9 555.4,762 555.6,759.1 555.8,756.2 556,753.3 556.2,750.4 556.4,747.5 556.6,744.6 556.8,741.7 557,738.7 557.2,735.7 557.4,732.7 557.6,729.6 557.8,726.4 558,723.2 558.2,719.9 558.4,716.5 558.6,713 558.8,709.4 559,705.7 559.2,701.9 559.4,698 559.6,693.9 559.8,689.5 560,684.9 560.2,680.2 560.4,675.4 560.6,670.4 560.7,667.9 560.8,665.3 560.9,662.7 561,660.1 561.1,657.6 561.2,654.9 561.3,652.3 561.4,649.7 561.5,647.1 561.6,644.5 561.7,641.9 561.8,639.2 561.9,636.6 562,634.1 562.1,631.5 562.2,628.9 562.3,626.4 562.4,623.9 562.6,619 562.8,614.1 563,609.5 563.2,604.9 563.4,600.3 563.6,595.9 563.8,591.4 564,587 564.2,582.7 564.4,578.3 564.6,574 564.8,569.8 565,565.5 565.2,561.3 565.4,557.1 565.6,552.9 565.8,548.7 566,544.5 566.2,540.3 566.4,536.1 566.6,531.8 566.8,527.6 567,523.3 567.2,519 567.4,514.7 567.6,510.3 567.8,505.9 568,501.5 568.2,497 568.4,492.5 568.6,487.9 568.8,483.2 569,478.5 569.2,473.7 569.4,468.9 569.6,463.8 569.7,461.3 569.8,458.7 569.9,456.1 570,453.5 570.1,450.8 570.2,448.1 570.3,445.4 570.4,442.7 570.5,439.9 570.6,437.2 570.7,434.4 570.8,431.6 570.9,428.7 571,425.9 571.1,423.1 571.2,420.2 571.3,417.4 571.4,414.5 571.5,411.6 571.6,408.8 571.7,405.9 571.8,403 571.9,400.1 572,397.3 572.1,394.4 572.2,391.5 572.3,388.7 572.4,385.9 572.5,383 572.6,380.2 572.7,377.4 572.8,374.6 572.9,371.8 573,369.1 573.1,366.3 573.2,363.6 573.3,360.9 573.4,358.2 573.5,355.6 573.6,352.9 573.7,350.4 573.8,347.8 573.9,345.3 574,342.8 574.2,337.9 574.4,333.1 574.6,328.5 574.8,323.9 575,319.4 575.2,314.8 575.4,310.3 575.6,305.8 575.8,301.4 576,297 576.2,292.6 576.4,288.3 576.6,284 576.8,279.7 577,275.6 577.2,271.5 577.4,267.4 577.6,263.4 577.8,259.5 578,255.7 578.2,252 578.4,248.3 578.6,244.7 578.8,241.2 579,237.9 579.2,234.6 579.4,231.4 579.6,228.3 579.8,225.4 580,222.5 580.2,219.7 580.4,216.8 580.6,214 580.8,211.3 581,208.5 581.2,205.9 581.4,203.3 581.6,200.7 581.9,197 582.2,193.5 582.5,190.1 582.8,187 583.1,184.1 583.4,181.5 583.8,178.4 584.2,175.7 584.6,173.1 585,170.6 585.4,168.1 585.9,165.1 586.4,162.4 586.9,159.8 587.5,157.2 588.3,154.6 589.9,153.2 591.1,155.4 591.9,158.2 592.5,160.8 593,163.2 593.5,165.9 594,168.8 594.5,171.9 594.9,174.4 595.3,177.2 595.6,179.8 595.9,183 596.2,186.5 596.4,189 596.6,191.7 596.8,194.5 597,197.4 597.2,200.3 597.4,203.4 597.6,206.5 597.8,209.6 598,212.8 598.2,216 598.4,219.2 598.6,222.3 598.8,225.4 599,228.5 599.2,231.7 599.4,234.9 599.6,238.2 599.8,241.6 600,245 600.2,248.5 600.4,252.1 600.6,255.6 600.8,259.3 601,263 601.2,266.7 601.4,270.5 601.6,274.3 601.8,278.1 602,282 602.2,286 602.4,289.9 602.6,293.9 602.8,297.9 603,302 603.2,306 603.4,310.1 603.6,314.2 603.8,318.3 604,322.5 604.2,326.6 604.4,330.8 604.6,335 604.8,339.3 605,343.7 605.2,348.1 605.4,352.7 605.6,357.3 605.8,361.9 606,366.6 606.2,371.3 606.4,376.1 606.6,380.9 606.8,385.8 607,390.7 607.2,395.5 607.4,400.4 607.6,405.3 607.8,410.2 608,415.1 608.2,420 608.4,424.9 608.6,429.7 608.8,434.5 609,439.3 609.2,444.1 609.4,448.7 609.6,453.4 609.8,458 610,462.5 610.2,466.9 610.4,471.3 610.6,475.6 610.8,479.9 611,484.1 611.2,488.2 611.4,492.4 611.6,496.5 611.8,500.5 612,504.6 612.2,508.6 612.4,512.5 612.6,516.5 612.8,520.4 613,524.3 613.2,528.2 613.4,532.1 613.6,536 613.8,539.9 614,543.7 614.2,547.6 614.4,551.5 614.6,555.3 614.8,559.2 615,563.1 615.2,567 615.4,571 615.6,574.9 615.8,578.9 616,582.9 616.2,586.9 616.4,591 616.6,595 616.8,599.2 617,603.3 617.2,607.5 617.4,611.8 617.6,616.2 617.8,620.6 618,625.3 618.2,630 618.4,634.8 618.6,639.6 618.8,644.5 619,649.4 619.2,654.3 619.4,659.1 619.6,664 619.8,668.7 620,673.4 620.2,677.9 620.4,682.3 620.6,686.6 620.8,690.7 621,694.6 621.2,698.2 621.4,701.7 621.6,705.1 621.8,708.5 622,711.8 622.2,715.1 622.4,718.3 622.6,721.4 622.8,724.6 623,727.7 623.2,730.7 623.4,733.7 623.6,736.6 623.8,739.6 624,742.4 624.2,745.2 624.4,748 624.6,750.8 624.8,753.4 625,756.1 625.2,758.7 625.4,761.3 625.6,763.8 625.9,767.5 626.2,771.1 626.5,774.6 626.8,778 627.1,781.3 627.4,784.6 627.7,787.7 628,790.7 628.3,793.7 628.6,796.6 628.9,799.4 629.2,802.1 629.5,804.7 629.8,807.3 630.1,809.9 630.5,813.1 630.9,816.3 631.3,819.4 631.7,822.4 632.1,825.3 632.5,828.2 632.9,831 633.3,833.7 633.7,836.4 634.1,839.1 634.5,841.7 634.9,844.3 635.3,846.8 635.7,849.4 636.1,852 636.5,854.5 636.9,857.1 637.3,859.7 637.7,862.3 638.1,865 638.5,867.6 638.9,870.4 639.3,873.2 639.7,876 640.1,878.9 640.5,881.9 640.9,885 641.3,888.2 641.7,891.5 642,894 642.3,896.6 642.6,899.3 642.9,902 643.2,904.7 643.5,907.5 643.8,910.3 644.1,913.1 644.4,916 644.7,918.8 645,921.7 645.3,924.6 645.6,927.5 645.9,930.4 646.2,933.3 646.5,936.2 646.8,939.1 647.1,942 647.4,944.8 647.7,947.6 648,950.4 648.3,953.2 648.6,955.9 648.9,958.5 649.2,961.2 649.5,963.7 649.8,966.2 650.2,969.4 650.6,972.5 651,975.5 651.4,978.3 651.8,981 652.2,983.5 652.7,986.4 653.2,989.1 653.7,991.6 654.3,994.4 654.9,997.2 655.5,999.8 656.1,1002.5 656.7,1005.3 657.3,1008.1 657.8,1010.7 658.3,1013.4 658.8,1016.4 659.2,1019 659.6,1021.7 660,1024.9 660.3,1027.5 660.6,1030.4 660.9,1033.4 661.2,1036.5 661.5,1039.7 661.8,1043 662.1,1046.2 662.4,1049.5 662.7,1052.7 663,1055.8 663.3,1058.8 663.6,1061.6 663.9,1064.2 664.3,1067.4 664.7,1070.4 665.1,1073.3 665.5,1076.1 665.9,1078.8 666.3,1081.4 666.7,1084 667.1,1086.5 667.5,1089.1 667.9,1091.6 668.3,1094.1 668.7,1096.7 669.1,1099.3 669.5,1102 669.9,1104.8 670.3,1107.7 670.7,1110.7 671.1,1113.8 671.5,1116.9 671.9,1120 672.3,1123 672.7,1126 673.1,1128.9 673.5,1131.6 673.9,1134.1 674.4,1137 674.9,1139.5 675.5,1142.1 676.2,1144.9 676.9,1147.4 677.7,1150.1 678.5,1152.5 679.4,1155.1 680.3,1157.5 681.3,1160.1 682.3,1162.6 683.2,1165 684.1,1167.6 684.9,1170 685.7,1172.6 686.4,1175.1 687.1,1177.8 687.8,1180.6 688.4,1183 689,1185.5 689.6,1188 690.2,1190.6 690.8,1193.2 691.4,1195.7 692,1198.2 692.6,1200.7 693.3,1203.5 694,1206.2 694.7,1208.7 695.5,1211.4 696.3,1213.8 697.2,1216.3 698.1,1218.7 699.1,1221.3 700.1,1223.8 701.1,1226.2 702.1,1228.5 703.2,1231 704.3,1233.4 705.4,1235.7 706.5,1238 707.7,1240.4 708.9,1242.7 710.1,1245 711.3,1247.2 712.5,1249.4 713.8,1251.7 715.1,1254.1 716.4,1256.4 717.7,1258.7 719,1261.1 720.3,1263.4 721.5,1265.7 722.7,1267.9 723.9,1270.2 725.1,1272.5 726.3,1274.9 727.5,1277.2 728.7,1279.5 729.9,1281.9 731.1,1284.1 732.3,1286.4 733.5,1288.6 734.8,1291 736.1,1293.3 737.4,1295.4 738.8,1297.7 740.2,1299.8 741.7,1302 743.3,1304.1 744.9,1306 746.6,1308 748.3,1309.9 750.1,1311.8 751.9,1313.6 753.8,1315.4 755.8,1317.1 757.8,1318.6 759.9,1319.9 762.1,1321.2 764.4,1322.4 766.7,1323.6 769,1324.7 771.3,1325.7 773.7,1326.6 776.1,1327.6 778.5,1328.5 780.9,1329.3 783.3,1330.1 785.7,1330.9 788.1,1331.7 790.5,1332.5 792.9,1333.3 795.3,1334.1 797.7,1334.9 800.1,1335.6 802.5,1336.3 804.9,1337 807.3,1337.8 809.7,1338.5 812.1,1339.3 814.5,1340 816.9,1340.8 819.3,1341.6 821.7,1342.4 824.1,1343.1 826.5,1343.9 828.9,1344.7 831.3,1345.4 833.7,1346.2 836.1,1346.9 838.6,1347.6 841.1,1348.3 843.5,1349 845.9,1349.8 848.3,1350.6 850.7,1351.4 853.1,1352.2 855.5,1352.9 857.9,1353.7 860.4,1354.4 862.9,1355.1 865.4,1355.6 867.9,1356.1 870.4,1356.5 872.9,1356.7 875.4,1356.8 877.9,1356.6 880.4,1356 882.8,1355.2 885.2,1354.2 887.5,1353.2 889.8,1352.1 892.1,1350.9 894.3,1349.6 896.4,1348.1 898.4,1346.5 900.4,1344.8 902.3,1343.1 904.1,1341.4 905.9,1339.5 907.7,1337.6 909.4,1335.7 911.1,1333.7 912.6,1331.6 914,1329.6 915.4,1327.3 916.7,1325.1 918,1322.8 919.3,1320.4 920.5,1318.2 921.7,1315.9 922.9,1313.6 924.1,1311.4 925.3,1309.1 926.5,1306.9 927.8,1304.6 929.1,1302.2 930.4,1299.9 931.7,1297.5 933,1295.2 934.2,1293 935.4,1290.7 936.6,1288.4 937.8,1286.1 939,1283.7 940.1,1281.4 941.2,1279.1 942.3,1276.7 943.4,1274.2 944.4,1271.8 945.4,1269.4 946.4,1266.8 947.3,1264.4 948.2,1261.9 949.1,1259.4 950,1256.8 950.9,1254.2 951.8,1251.6 952.7,1248.9 953.5,1246.6 954.4,1243.9 955.3,1241.3 956.2,1238.7 957.1,1236.1 958,1233.5 958.9,1230.9 959.7,1228.5 960.5,1226 961.3,1223.6 962.1,1221.1 962.9,1218.6 963.7,1216.1 964.5,1213.5 965.3,1210.9 966.1,1208.3 966.9,1205.7 967.7,1203.1 968.5,1200.5 969.3,1198 970.1,1195.5 970.9,1193.1 971.8,1190.5 972.7,1188 973.6,1185.6 974.6,1183.1 975.7,1180.6 976.8,1178.3 978,1175.9 979.2,1173.5 980.3,1171.2 981.5,1168.8 982.7,1166.4 983.8,1164.1 984.9,1161.7 985.9,1159.3 986.8,1156.9 987.7,1154.3 988.5,1151.9 989.3,1149.3 990,1146.8 990.7,1144.1 991.3,1141.7 991.9,1139.1 992.5,1136.6 993.1,1134.1 993.7,1131.5 994.3,1128.9 994.9,1126.3 995.5,1123.6 996.1,1120.8 996.7,1118 997.3,1115.1 997.9,1112.1 998.4,1109.7 998.9,1107.2 999.4,1104.7 999.9,1102.2 1000.4,1099.8 1001,1096.9 1001.6,1094 1002.2,1091.2 1002.8,1088.3 1003.4,1085.5 1004,1082.7 1004.6,1079.9 1005.2,1077.1 1005.8,1074.3 1006.4,1071.4 1007,1068.5 1007.6,1065.5 1008.1,1063.1 1008.6,1060.6 1009.1,1058.1 1009.6,1055.7 1010.1,1053.2 1010.6,1050.6 1011.1,1048.1 1011.6,1045.5 1012.1,1042.9 1012.6,1040.3 1013.1,1037.6 1013.6,1034.8 1014.1,1032.1 1014.6,1029.3 1015.1,1026.4 1015.6,1023.5 1016.1,1020.5 1016.6,1017.5 1017,1015 1017.4,1012.4 1017.8,1009.8 1018.2,1007.1 1018.6,1004.4 1019,1001.7 1019.4,999 1019.8,996.2 1020.2,993.4 1020.6,990.5 1021,987.6 1021.4,984.6 1021.8,981.5 1022.2,978.5 1022.6,975.3 1023,972.1 1023.4,968.9 1023.8,965.6 1024.1,963.1 1024.4,960.5 1024.7,957.9 1025,955.3 1025.3,952.7 1025.6,950 1025.9,947.3 1026.2,944.7 1026.5,942.1 1026.8,939.6 1027.1,937 1027.4,934.5 1027.7,931.9 1028,929.3 1028.3,926.6 1028.6,924 1028.9,921.3 1029.2,918.7 1029.5,916.1 1029.8,913.6 1030.1,911.1 1030.4,908.5 1030.7,905.9 1031,903.3 1031.3,900.7 1031.6,898.1 1031.9,895.6 1032.3,892.3 1032.7,889.1 1033.1,886 1033.5,882.8 1033.9,879.7 1034.3,876.6 1034.7,873.5 1035.1,870.5 1035.5,867.5 1035.9,864.5 1036.3,861.5 1036.7,858.5 1037.1,855.6 1037.5,852.7 1037.9,849.8 1038.3,846.9 1038.7,844.1 1039.1,841.3 1039.5,838.5 1039.9,835.6 1040.3,832.8 1040.7,830 1041.1,827.2 1041.5,824.3 1041.9,821.5 1042.3,818.7 1042.7,816 1043.1,813.3 1043.5,810.8 1044,807.8 1044.5,804.9 1045,802.1 1045.5,799.2 1046,796.3 1046.5,793.4 1047,790.6 1047.5,787.6 1048,784.7 1048.5,781.7 1049,778.7 1049.5,775.7 1050,772.8 1050.5,769.8 1051,766.9 1051.5,763.9 1052,760.8 1052.5,757.8 1053,754.7 1053.5,751.7 1054,748.6 1054.5,745.6 1055,742.6 1055.4,740.1 1055.8,737.6 1056.2,735.1 1056.6,732.5 1057,729.9 1057.4,727.2 1057.8,724.5 1058.2,721.7 1058.6,718.9 1059,716.2 1059.4,713.5 1059.8,710.8 1060.2,708.1 1060.6,705.5 1061,702.7 1061.4,700 1061.8,697.2 1062.2,694.5 1062.6,691.7 1063,688.9 1063.4,686.2 1063.8,683.4 1064.2,680.7 1064.6,677.9 1065,675.2 1065.4,672.5 1065.8,669.7 1066.2,666.8 1066.6,664 1067,661 1067.4,658.1 1067.8,655.1 1068.2,652.1 1068.6,649.2 1069,646.2 1069.4,643.2 1069.8,640.1 1070.2,637.1 1070.6,634.1 1071,631 1071.4,628 1071.8,624.9 1072.2,621.9 1072.6,618.9 1073,615.9 1073.4,612.9 1073.8,610 1074.2,607.2 1074.6,604.4 1075,601.7 1075.4,599 1075.8,596.4 1076.2,593.7 1076.6,591 1077,588.3 1077.4,585.8 1077.9,583.2 1078.5,580.5 1079.1,578 1079.8,575.3 1080.5,572.8 1081.3,570.1 1082.1,567.4 1082.8,565 1083.5,562.3 1084.1,559.8 1084.7,557.1 1085.3,554.3 1085.9,551.4 1086.4,548.9 1086.9,546.3 1087.4,543.7 1087.9,541 1088.4,538.3 1088.9,535.6 1089.4,532.7 1089.9,529.9 1090.4,527 1090.9,524.1 1091.4,521.2 1091.9,518.3 1092.4,515.4 1092.9,512.4 1093.4,509.5 1093.9,506.5 1094.4,503.6 1094.9,500.7 1095.4,497.8 1095.9,494.9 1096.4,492 1096.9,489.2 1097.4,486.4 1097.9,483.7 1098.4,481 1098.9,478.4 1099.4,475.8 1099.9,473.3 1100.4,470.8 1101,468 1101.6,465.2 1102.2,462.6 1102.8,460 1103.4,457.5 1104,454.9 1104.6,452.5 1105.2,450 1105.9,447.2 1106.6,444.5 1107.3,441.8 1108,439.1 1108.7,436.5 1109.4,433.9 1110.1,431.4 1110.8,428.9 1111.5,426.5 1112.3,423.8 1113.1,421.1 1113.9,418.5 1114.7,415.9 1115.5,413.5 1116.3,411 1117.1,408.6 1118,406 1118.9,403.4 1119.8,400.9 1120.7,398.4 1121.6,396 1122.5,393.6 1123.4,391.3 1124.4,388.7 1125.4,386.2 1126.4,383.7 1127.4,381.3 1128.4,378.8 1129.4,376.4 1130.4,374.1 1131.4,371.7 1132.4,369.3 1133.4,366.9 1134.4,364.6 1135.4,362.2 1136.4,359.9 1137.4,357.6 1138.5,355.1 1139.6,352.7 1140.7,350.2 1141.8,347.9 1142.9,345.5 1144,343.3 1145.2,340.8 1146.4,338.5 1147.6,336.2 1148.9,333.9 1150.2,331.7 1151.5,329.5 1152.9,327.2 1154.3,325 1155.7,322.9 1157.1,320.8 1158.6,318.6 1160.1,316.5 1161.6,314.4 1163.2,312.3 1164.8,310.3 1166.5,308.3 1168.2,306.4 1169.9,304.5 1171.7,302.6 1173.5,300.7 1175.3,298.9 1177.1,297.1 1178.9,295.3 1180.8,293.5 1182.7,291.8 1184.6,290.1 1186.6,288.4 1188.6,286.8 1190.6,285.3 1192.7,283.8 1194.8,282.5 1197,281.2 1199.2,280 1201.4,278.8 1203.7,277.5 1206,276.4 1208.3,275.3 1210.7,274.3 1213.1,273.5 1215.6,272.9 1218.1,272.5 1220.6,272.3 1223.1,272.1 1225.6,271.9 1228.1,271.8 1230.6,271.7 1233.1,271.6 1235.6,271.5 1238.1,271.5 1240.6,271.8 1243.1,272.5 1245.5,273.4 1247.8,274.6 1250,275.8 1252.2,277 1254.4,278.2 1256.7,279.3 1259,280.4 1261.3,281.6 1263.6,282.7 1265.9,283.9 1268.1,285.2 1270.3,286.5 1272.4,288 1274.5,289.5 1276.5,291.2 1278.3,292.9 1280,294.8 1281.6,296.7 1283.2,298.8 1284.7,300.9 1286.2,303.1 1287.6,305.2 1289,307.3 1290.4,309.5 1291.8,311.6 1293.2,313.8 1294.6,315.9 1296,318 1297.4,320.1 1298.8,322.2 1300.2,324.3 1301.6,326.4 1303,328.6 1304.4,330.8 1305.8,333 1307.2,335.2 1308.6,337.5 1309.9,339.7 1311.2,341.8 1312.5,344.1 1313.8,346.3 1315.1,348.7 1316.4,351 1317.6,353.2 1318.8,355.5 1320,357.8 1321.2,360.2 1322.4,362.6 1323.5,364.9 1324.6,367.2 1325.7,369.6 1326.8,372 1327.9,374.4 1329,376.8 1330.1,379.3 1331.2,381.8 1332.2,384.1 1333.2,386.5 1334.2,388.8 1335.2,391.1 1336.2,393.5 1337.2,395.9 1338.2,398.3 1339.2,400.7 1340.2,403.1 1341.2,405.5 1342.2,407.9 1343.2,410.3 1344.2,412.7 1345.2,415.1 1346.2,417.6 1347.2,420 1348.2,422.4 1349.2,424.8 1350.2,427.2 1351.2,429.5 1352.2,431.9 1353.2,434.3 1354.2,436.6 1355.2,438.9 1356.2,441.2 1357.3,443.7 1358.4,446.2 1359.5,448.7 1360.6,451.2 1361.7,453.7 1362.8,456.2 1363.9,458.7 1365,461.2 1366.1,463.7 1367.2,466.2 1368.3,468.7 1369.4,471.2 1370.5,473.7 1371.6,476.2 1372.7,478.7 1373.8,481.2 1374.9,483.7 1376,486.2 1377.1,488.7 1378.2,491.2 1379.3,493.7 1380.4,496.2 1381.5,498.7 1382.6,501.2 1383.7,503.8 1384.7,506 1385.7,508.3 1386.7,510.6 1387.7,512.9 1388.7,515.3 1389.7,517.6 1390.7,519.9 1391.7,522.2 1392.7,524.5 1393.7,526.9 1394.7,529.2 1395.7,531.5 1396.7,533.9 1397.7,536.3 1398.7,538.6 1399.7,541 1400.7,543.4 1401.7,545.8 1402.7,548.2 1403.7,550.6 1404.7,553 1405.7,555.4 1406.7,557.8 1407.7,560.2 1408.7,562.7 1409.7,565.1 1410.7,567.5 1411.7,570 1412.7,572.4 1413.7,574.8 1414.7,577.3 1415.7,579.7 1416.7,582.1 1417.7,584.5 1418.7,587 1419.7,589.4 1420.7,591.8 1421.7,594.2 1422.7,596.6 1423.7,599 1424.7,601.4 1425.7,603.8 1426.7,606.2 1427.7,608.6 1428.7,610.9 1429.7,613.3 1430.7,615.7 1431.7,618 1432.7,620.3 1433.7,622.7 1434.7,625 1435.7,627.3 1436.7,629.7 1437.7,632 1438.7,634.3 1439.7,636.7 1440.7,639 1441.7,641.3 1442.7,643.7 1443.7,646 1444.7,648.3 1445.7,650.6 1446.7,653 1447.7,655.3 1448.7,657.6 1449.7,659.9 1450.7,662.2 1451.7,664.5 1452.8,667 1453.9,669.5 1455,672 1456.1,674.5 1457.2,677 1458.3,679.5 1459.4,681.9 1460.5,684.4 1461.6,686.8 1462.7,689.3 1463.8,691.7 1464.9,694.1 1466,696.5 1467.1,698.9 1468.2,701.2 1469.3,703.6 1470.4,705.9 1471.5,708.2 1472.6,710.5 1473.7,712.8 1474.8,715 1475.9,717.3 1477.1,719.7 1478.3,722.2 1479.5,724.6 1480.7,727 1481.9,729.3 1483.1,731.7 1484.3,734.1 1485.5,736.4 1486.7,738.8 1487.9,741.1 1489.1,743.4 1490.3,745.7 1491.5,748 1492.7,750.3 1493.9,752.6 1495.1,754.9 1496.3,757.1 1497.5,759.4 1498.7,761.6 1499.9,763.9 1501.1,766.1 1502.3,768.4 1503.5,770.6 1504.7,772.8 1505.9,775 1507.1,777.3 1508.3,779.5 1509.5,781.7 1510.7,783.9 1511.9,786.1 1513.1,788.3 1514.3,790.5 1515.5,792.7 1516.7,795 1517.9,797.2 1519.1,799.4 1520.3,801.6 1521.5,803.8 1522.7,806 1523.9,808.2 1525.2,810.6 1526.5,812.9 1527.8,815.3 1529.1,817.6 1530.4,820 1531.7,822.3 1533,824.7 1534.3,827 1535.6,829.3 1536.9,831.7 1538.2,834 1539.5,836.3 1540.8,838.6 1542.1,840.9 1543.4,843.2 1544.7,845.5 1546,847.8 1547.3,850.1 1548.6,852.4 1549.9,854.7 1551.2,857 1552.5,859.3 1553.8,861.6 1555.1,863.9 1556.4,866.1 1557.7,868.4 1559,870.7 1560.3,873 1561.6,875.3 1562.9,877.5 1564.2,879.8 1565.5,882.1 1566.8,884.4 1568.1,886.7 1569.4,888.9 1570.7,891.2 1572,893.5 1573.3,895.8 1574.6,898.1 1575.9,900.5 1577.2,902.8 1578.5,905.1 1579.8,907.4 1581.1,909.7 1582.4,912.1 1583.7,914.4 1585,916.7 1586.3,919 1587.6,921.3 1588.9,923.6 1590.2,925.9 1591.5,928.2 1592.8,930.5 1594.1,932.8 1595.4,935 1596.7,937.3 1598,939.5 1599.3,941.8 1600.6,944 1601.9,946.2 1603.2,948.4 1604.5,950.6 1605.8,952.8 1607.1,954.9 1608.5,957.2 1609.9,959.5 1611.3,961.7 1612.7,964 1614.1,966.2 1615.5,968.4 1616.9,970.5 1618.3,972.7 1619.7,974.8 1621.1,977 1622.5,979.1 1623.9,981.2 1625.3,983.3 1626.7,985.4 1628.1,987.5 1629.5,989.6 1631,991.8 1632.5,994 1634,996.2 1635.5,998.4 1637,1000.6 1638.5,1002.7 1640,1004.9 1641.5,1007 1643,1009.2 1644.5,1011.3 1646,1013.4 1647.5,1015.5 1649,1017.6 1650.5,1019.6 1652,1021.7 1653.5,1023.7 1655,1025.8 1656.5,1027.8 1658,1029.8 1659.5,1031.8 1661.1,1034 1662.7,1036.1 1664.3,1038.2 1665.9,1040.3 1667.5,1042.3 1669.1,1044.4 1670.7,1046.5 1672.3,1048.5 1673.9,1050.5 1675.5,1052.5 1677.1,1054.6 1678.7,1056.5 1680.3,1058.5 1681.9,1060.5 1683.5,1062.5 1685.1,1064.4 1686.7,1066.4 1688.3,1068.3 1689.9,1070.3 1691.5,1072.2 1693.2,1074.2 1694.9,1076.2 1696.6,1078.3 1698.3,1080.3 1700,1082.3 1701.7,1084.2 1703.4,1086.2 1705.1,1088.2 1706.8,1090.1 1708.5,1092 1710.2,1094 1711.9,1095.9 1713.6,1097.8 1715.3,1099.6 1717,1101.5 1718.7,1103.4 1720.4,1105.2 1722.2,1107.1 1724,1109.1 1725.8,1111 1727.6,1112.8 1729.4,1114.7 1731.2,1116.6 1733,1118.4 1734.8,1120.2 1736.6,1122 1738.4,1123.8 1740.2,1125.5 1742,1127.3 1743.9,1129.1 1745.8,1130.8 1747.7,1132.6 1749.6,1134.3 1751.5,1136 1753.4,1137.7 1755.3,1139.3 1757.2,1141 1759.2,1142.7 1761.2,1144.4 1763.2,1146.1 1765.2,1147.7 1767.2,1149.4 1769.2,1151.1 1771.2,1152.7 1773.2,1154.4 1775.2,1156 1777.2,1157.7 1779.2,1159.3 1781.2,1161 1783.2,1162.7 1785.2,1164.3 1787.2,1166 1789.2,1167.6 1791.2,1169.3 1793.2,1170.9 1795.2,1172.5 1797.2,1174.2 1799.2,1175.8 1801.2,1177.4 1803.2,1179 1805.2,1180.6 1807.2,1182.2 1809.2,1183.8 1811.2,1185.3 1813.2,1186.9 1815.2,1188.5 1817.2,1190 1819.2,1191.6 1821.2,1193.2 1823.2,1194.8 1825.2,1196.3 1827.2,1197.9 1829.2,1199.4 1831.3,1200.9 1833.4,1202.4 1835.5,1203.8 1837.7,1205.2 1839.9,1206.6 1842.1,1207.9 1844.3,1209.3 1846.5,1210.5 1848.7,1211.8 1850.9,1213 1853.2,1214.1 1855.5,1215.3 1857,1216" fill="none" stroke="#ff0000" stroke-width="11.5" stroke-linecap="round" stroke-linejoin="round" stroke-dasharray="35 49.1"/>
<path d="M353.5,1359 356,1359 358.5,1359 361,1359 363.5,1359 366,1359 368.5,1358.9 371,1358.9 373.5,1358.9 376,1358.9 378.5,1358.8 381,1358.8 383.5,1358.8 386,1358.7 388.5,1358.7 391,1358.6 393.5,1358.6 396,1358.6 398.5,1358.5 401,1358.5 403.5,1358.4 406,1358.4 408.5,1358.3 411,1358.3 413.5,1358.2 416,1358.1 418.5,1358 421,1357.9 423.5,1357.8 426,1357.7 428.5,1357.6 431,1357.5 433.5,1357.4 436,1357.2 438.5,1357.1 441,1356.9 443.5,1356.7 446,1356.5 448.5,1356.3 451,1356 453.5,1355.6 456,1355.3 458.5,1354.9 461,1354.5 463.5,1354.1 466,1353.7 468.5,1353.3 471,1352.8 473.5,1352.3 476,1351.8 478.5,1351.3 481,1350.6 483.5,1349.9 485.9,1349.2 488.3,1348.4 490.7,1347.4 493,1346.3 495.2,1345.1 497.4,1343.7 499.5,1342.3 501.6,1340.9 503.6,1339.3 505.5,1337.6 507.3,1335.8 509,1333.8 510.5,1331.8 511.9,1329.6 513.3,1327.4 514.6,1325.2 515.9,1323 517.2,1320.9 518.5,1318.6 519.8,1316.3 521,1314.1 522.2,1311.7 523.3,1309.3 524.3,1307 525.3,1304.6 526.2,1302.2 527.1,1299.8 528,1297.4 528.9,1294.9 529.8,1292.5 530.7,1290 531.6,1287.4 532.5,1284.8 533.4,1282.1 534.3,1279.5 535.2,1276.9 536.1,1274.4 537,1272 538,1269.5 539,1267.1 540.1,1264.6 541.2,1262.2 542.3,1259.7 543.3,1257.4 544.3,1255 545.3,1252.5 546.2,1250 547.1,1247.4 548,1244.8 548.8,1242.4 549.6,1239.9 550.4,1237.3 551.2,1234.6 551.9,1232.1 552.6,1229.6 553.3,1227 554,1224.3 554.6,1221.8 555.2,1219.3 555.8,1216.7 556.4,1214 557,1211 557.5,1208.4 558,1205.6 558.5,1202.8 559,1199.8 559.5,1196.7 559.9,1194.2 560.3,1191.7 560.7,1189.1 561.1,1186.4 561.5,1183.8 561.9,1181.1 562.3,1178.4 562.7,1175.6 563.1,1172.9 563.5,1170.2 563.9,1167.4 564.3,1164.7 564.7,1162 565.1,1159.3 565.5,1156.6 565.9,1153.9 566.3,1151.2 566.7,1148.4 567.1,1145.6 567.5,1142.8 567.9,1140 568.3,1137.2 568.7,1134.3 569.1,1131.4 569.5,1128.5 569.9,1125.6 570.3,1122.7 570.7,1119.7 571.1,1116.7 571.5,1113.7 571.9,1110.7 572.3,1107.7 572.7,1104.6 573.1,1101.5 573.5,1098.4 573.9,1095.2 574.3,1091.9 574.6,1089.4 574.9,1086.8 575.2,1084.2 575.5,1081.5 575.8,1078.9 576.1,1076.2 576.4,1073.6 576.7,1071 577,1068.4 577.3,1065.9 577.6,1063.4 578,1060.2 578.4,1057 578.8,1054.1 579.2,1051.3 579.6,1048.7 580,1046.2 580.4,1043.7 580.9,1040.7 581.4,1037.7 581.9,1034.9 582.4,1032.2 582.9,1029.6 583.4,1027.1 584,1024.3 584.6,1021.6 585.2,1019.2 585.9,1016.4 586.6,1013.7 587.3,1011.2 588.1,1008.9 589.3,1006.6 590.8,1004.6 592.8,1003.1 594.9,1004.2 596.3,1006.3 597.3,1008.6 598.1,1011.2 598.8,1013.7 599.5,1016.3 600.3,1019 601.1,1021.5 601.9,1024 602.7,1026.5 603.5,1029.1 604.3,1031.8 605,1034.3 605.7,1037 606.3,1039.4 606.9,1042.1 607.4,1044.6 607.9,1047.4 608.3,1049.9 608.7,1052.5 609.1,1055.3 609.5,1058.1 609.9,1061 610.3,1064 610.7,1067 611.1,1070 611.5,1072.9 611.9,1075.8 612.3,1078.5 612.7,1081.2 613.1,1083.7 613.6,1086.7 614.1,1089.5 614.6,1092.4 615.1,1095.1 615.6,1097.8 616.1,1100.5 616.6,1103.1 617.1,1105.7 617.6,1108.3 618.1,1110.9 618.6,1113.4 619.1,1116 619.6,1118.5 620.1,1121.1 620.6,1123.6 621.1,1126.2 621.6,1128.8 622.1,1131.4 622.6,1133.9 623.1,1136.4 623.6,1138.9 624.2,1141.8 624.8,1144.7 625.4,1147.4 626,1150.1 626.6,1152.6 627.3,1155.4 628,1158.1 628.7,1160.8 629.4,1163.4 630.1,1166 630.8,1168.4 631.5,1170.9 632.3,1173.5 633.1,1176.1 633.9,1178.6 634.8,1181.2 635.7,1183.7 636.7,1186.3 637.7,1188.7 638.8,1191.1 639.9,1193.5 641.1,1195.9 642.3,1198.2 643.5,1200.4 644.7,1202.6 646,1205 647.2,1207.2 648.4,1209.5 649.6,1211.9 650.8,1214.3 652,1216.7 653.2,1219.1 654.4,1221.5 655.6,1223.8 656.8,1226.2 658,1228.6 659.2,1231 660.4,1233.4 661.6,1235.8 662.8,1238.2 663.9,1240.5 665,1242.7 666.1,1245 667.2,1247.3 668.3,1249.5 669.5,1252 670.7,1254.4 671.9,1256.8 673.1,1259.1 674.3,1261.3 675.5,1263.5 676.7,1265.7 677.9,1267.9 679.2,1270.3 680.5,1272.6 681.8,1274.8 683.2,1277.1 684.6,1279.2 686.1,1281.4 687.7,1283.4 689.3,1285.3 691,1287.3 692.7,1289.1 694.5,1290.9 696.3,1292.7 698.2,1294.5 700.1,1296.2 702,1297.8 704,1299.5 706,1301.1 708,1302.6 710.1,1304.2 712.2,1305.7 714.3,1307.1 716.4,1308.5 718.5,1309.9 720.7,1311.3 722.9,1312.7 725.1,1314.1 727.3,1315.5 729.5,1316.9 731.7,1318.3 733.9,1319.6 736.1,1321 738.3,1322.3 740.5,1323.6 742.7,1324.8 744.9,1326 747.2,1327.3 749.5,1328.5 751.8,1329.6 754.1,1330.7 756.4,1331.9 758.7,1333 761,1334.1 763.3,1335.1 765.6,1336.2 767.9,1337.2 770.3,1338.2 772.7,1339.1 775.1,1340 777.5,1340.7 779.9,1341.5 782.4,1342.1 784.9,1342.8 787.4,1343.4 789.9,1343.9 792.4,1344.4 794.9,1344.7 797.4,1345 799.9,1345.3 802.4,1345.5 804.9,1345.8 807.4,1346 809.9,1346.2 812.4,1346.4 814.9,1346.6 817.4,1346.7 819.9,1346.8 822.4,1346.9 824.9,1347 827.4,1347 829.9,1347 832.4,1347 834.9,1346.9 837.4,1346.8 839.9,1346.7 842.4,1346.5 844.9,1346.3 847.4,1346.1 849.9,1345.9 852.4,1345.7 854.9,1345.4 857.4,1345.2 859.9,1344.9 862.4,1344.7 864.9,1344.3 867.4,1344 869.9,1343.5 872.4,1343 874.9,1342.4 877.4,1341.8 879.9,1341.1 882.3,1340.4 884.7,1339.6 887.1,1338.7 889.5,1337.8 891.8,1336.6 894,1335.2 896.1,1333.6 898.1,1332 900,1330.4 901.9,1328.7 903.8,1327.1 905.8,1325.4 907.8,1323.7 909.8,1322 911.7,1320.4 913.6,1318.7 915.5,1317 917.4,1315.2 919.3,1313.4 921.2,1311.6 923,1309.9 924.8,1308.1 926.6,1306.3 928.4,1304.4 930.2,1302.5 932,1300.6 933.8,1298.8 935.6,1296.9 937.4,1295.1 939.1,1293.2 940.8,1291.2 942.4,1289.1 943.9,1287 945.3,1284.9 946.7,1282.6 947.9,1280.3 949,1278 950,1275.6 951,1273 951.9,1270.5 952.8,1267.8 953.6,1265.4 954.4,1262.9 955.2,1260.3 956,1257.7 956.8,1255 957.6,1252.3 958.4,1249.6 959.1,1247.1 959.8,1244.7 960.5,1242.3 961.3,1239.6 962.1,1236.9 962.9,1234.2 963.7,1231.6 964.5,1228.8 965.2,1226.4 965.9,1223.8 966.6,1221.2 967.3,1218.5 968,1215.9 968.7,1213.2 969.4,1210.4 970.1,1207.7 970.8,1205 971.5,1202.4 972.2,1199.8 972.9,1197.2 973.6,1194.7 974.3,1192.2 975.1,1189.5 975.9,1187 976.7,1184.6 977.6,1182 978.6,1179.5 979.6,1177.2 980.7,1174.7 981.8,1172.4 982.9,1170.1 984,1167.7 985.1,1165.2 986.1,1162.8 987,1160.3 987.9,1157.7 988.7,1155.1 989.4,1152.6 990.1,1150 990.8,1147.3 991.5,1144.5 992.1,1142 992.7,1139.4 993.3,1136.8 993.9,1134.2 994.5,1131.5 995.1,1128.8 995.7,1126.1 996.3,1123.3 996.9,1120.4 997.4,1117.9 997.9,1115.4 998.4,1112.8 998.9,1110.3 999.4,1107.7 999.9,1105.1 1000.4,1102.4 1000.9,1099.8 1001.4,1097.3 1001.9,1094.7 1002.4,1092.2 1002.9,1089.7 1003.4,1087.2 1003.9,1084.8 1004.4,1082.3 1004.9,1079.9 1005.4,1077.4 1005.9,1074.9 1006.4,1072.4 1006.9,1070 1007.4,1067.4 1007.9,1064.9 1008.4,1062.3 1008.9,1059.7 1009.4,1057 1009.9,1054.4 1010.4,1051.7 1010.9,1049 1011.4,1046.3 1011.9,1043.6 1012.4,1040.8 1012.9,1038 1013.4,1035.1 1013.9,1032.2 1014.4,1029.2 1014.9,1026.1 1015.3,1023.6 1015.7,1021.1 1016.1,1018.5 1016.5,1015.8 1016.9,1013.1 1017.3,1010.4 1017.7,1007.6 1018.1,1004.8 1018.5,1001.9 1018.9,999 1019.3,996 1019.7,993.1 1020.1,990 1020.5,986.9 1020.9,983.8 1021.3,980.7 1021.7,977.5 1022.1,974.2 1022.4,971.7 1022.7,969.1 1023,966.5 1023.3,963.9 1023.6,961.2 1023.9,958.5 1024.2,955.8 1024.5,953.1 1024.8,950.4 1025.1,947.6 1025.4,944.9 1025.7,942.2 1026,939.5 1026.3,936.8 1026.6,934.1 1026.9,931.4 1027.2,928.7 1027.5,926 1027.8,923.3 1028.1,920.5 1028.4,917.8 1028.7,915 1029,912.3 1029.3,909.6 1029.6,906.9 1029.9,904.2 1030.2,901.6 1030.5,899 1030.8,896.5 1031.1,894 1031.5,890.7 1031.9,887.5 1032.3,884.3 1032.7,881.2 1033.1,878.1 1033.5,875 1033.9,872 1034.3,869 1034.7,866 1035.1,863 1035.5,860.1 1035.9,857.2 1036.3,854.3 1036.7,851.4 1037.1,848.5 1037.5,845.6 1037.9,842.7 1038.3,839.9 1038.7,837 1039.1,834.1 1039.5,831.3 1039.9,828.5 1040.3,825.7 1040.7,823 1041.1,820.2 1041.5,817.5 1041.9,814.8 1042.3,812.1 1042.7,809.4 1043.1,806.7 1043.5,804 1043.9,801.3 1044.3,798.6 1044.7,795.9 1045.1,793.2 1045.5,790.4 1045.9,787.7 1046.3,784.9 1046.7,782.1 1047.1,779.3 1047.5,776.5 1047.9,773.6 1048.3,770.8 1048.7,767.9 1049.1,765 1049.5,762.2 1049.9,759.3 1050.3,756.4 1050.7,753.5 1051.1,750.6 1051.5,747.7 1051.9,744.8 1052.3,741.9 1052.7,739 1053.1,736 1053.5,733.1 1053.9,730.2 1054.3,727.2 1054.7,724.3 1055.1,721.3 1055.5,718.4 1055.9,715.4 1056.3,712.4 1056.7,709.5 1057.1,706.5 1057.5,703.5 1057.9,700.5 1058.3,697.5 1058.7,694.5 1059.1,691.5 1059.5,688.5 1059.9,685.5 1060.3,682.5 1060.7,679.5 1061.1,676.5 1061.5,673.5 1061.9,670.5 1062.3,667.5 1062.7,664.4 1063.1,661.3 1063.5,658.1 1063.9,654.9 1064.3,651.7 1064.7,648.5 1065.1,645.3 1065.5,642.1 1065.9,638.8 1066.3,635.6 1066.7,632.4 1067.1,629.1 1067.5,625.9 1067.9,622.8 1068.3,619.6 1068.7,616.5 1069.1,613.4 1069.5,610.3 1069.9,607.3 1070.3,604.4 1070.7,601.5 1071.1,598.6 1071.5,595.8 1071.9,593.1 1072.3,590.5 1072.7,587.9 1073.1,585.3 1073.5,582.8 1073.9,580.4 1074.4,577.3 1074.9,574.3 1075.4,571.4 1075.9,568.5 1076.4,565.6 1076.9,562.8 1077.4,560 1077.9,557.2 1078.4,554.5 1078.9,551.7 1079.4,549 1079.9,546.3 1080.4,543.6 1080.9,540.9 1081.4,538.2 1081.9,535.4 1082.4,532.7 1082.9,529.9 1083.4,527.1 1083.9,524.3 1084.4,521.5 1084.9,518.6 1085.4,515.8 1085.9,512.9 1086.4,510 1086.9,507.1 1087.4,504.2 1087.9,501.2 1088.4,498.3 1088.9,495.4 1089.4,492.5 1089.9,489.6 1090.4,486.7 1090.9,483.8 1091.4,480.9 1091.9,478 1092.4,475.2 1092.9,472.3 1093.4,469.5 1093.9,466.6 1094.4,463.9 1094.9,461.1 1095.4,458.3 1095.9,455.6 1096.4,452.9 1096.9,450.2 1097.4,447.6 1097.9,444.9 1098.4,442.2 1098.9,439.6 1099.4,436.9 1099.9,434.2 1100.4,431.6 1100.9,428.9 1101.4,426.3 1101.9,423.7 1102.4,421.1 1102.9,418.5 1103.4,415.9 1103.9,413.4 1104.4,410.8 1104.9,408.3 1105.4,405.8 1105.9,403.4 1106.5,400.5 1107.1,397.6 1107.7,394.8 1108.3,392 1108.9,389.3 1109.5,386.6 1110.1,384 1110.7,381.4 1111.3,378.9 1111.9,376.5 1112.6,373.7 1113.3,370.9 1114,368.3 1114.7,365.6 1115.4,363 1116.1,360.5 1116.8,358 1117.5,355.5 1118.2,353 1118.9,350.6 1119.6,348.2 1120.4,345.5 1121.2,342.8 1122,340.1 1122.8,337.4 1123.6,334.7 1124.4,331.9 1125.2,329.2 1126,326.6 1126.8,324 1127.6,321.5 1128.4,318.9 1129.2,316.3 1130,313.7 1130.8,311.1 1131.6,308.4 1132.3,306 1133,303.6 1133.7,301.1 1134.4,298.6 1135.1,296.1 1135.8,293.6 1136.5,291.1 1137.2,288.7 1137.9,286.3 1138.6,283.8 1139.3,281.4 1140,279 1140.7,276.6 1141.5,273.9 1142.3,271.2 1143.1,268.6 1143.9,266.1 1144.7,263.6 1145.5,261.1 1146.3,258.7 1147.2,256.1 1148.1,253.5 1149,250.9 1149.9,248.5 1150.8,246.1 1151.8,243.5 1152.8,241 1153.8,238.6 1154.8,236.2 1155.8,233.9 1156.9,231.5 1158,229.1 1159.1,226.8 1160.3,224.3 1161.5,222 1162.7,219.8 1164,217.4 1165.3,215.2 1166.6,213 1168,210.7 1169.4,208.5 1170.8,206.3 1172.3,204.1 1173.8,202 1175.3,200 1176.9,197.9 1178.5,195.8 1180.1,193.8 1181.8,191.8 1183.5,189.8 1185.2,188 1187,186 1188.8,184.2 1190.6,182.4 1192.4,180.7 1194.3,178.9 1196.2,177.1 1198.1,175.5 1200.1,173.8 1202.1,172.2 1204.1,170.7 1206.2,169.2 1208.3,167.8 1210.4,166.3 1212.5,165 1214.7,163.6 1216.9,162.3 1219.1,161.1 1221.4,160 1223.8,159 1226.2,158.2 1228.6,157.5 1231,156.7 1233.5,156 1236,155.4 1238.5,154.9 1241,154.6 1243.5,154.5 1246,154.6 1248.5,154.9 1251,155.4 1253.5,156 1256,156.7 1258.4,157.5 1260.8,158.3 1263.2,159.3 1265.5,160.5 1267.7,161.9 1269.8,163.4 1271.8,165 1273.8,166.6 1275.8,168.3 1277.8,170 1279.7,171.7 1281.5,173.4 1283.3,175.3 1285,177.2 1286.7,179.1 1288.4,181.1 1290,183.1 1291.6,185 1293.2,187.1 1294.8,189.1 1296.3,191.1 1297.8,193.2 1299.3,195.4 1300.8,197.6 1302.2,199.7 1303.6,201.8 1305,204 1306.4,206.2 1307.8,208.5 1309.1,210.6 1310.4,212.8 1311.7,215 1313,217.3 1314.3,219.7 1315.5,221.9 1316.7,224.1 1317.9,226.4 1319.1,228.7 1320.3,231 1321.5,233.5 1322.6,235.7 1323.7,238 1324.8,240.4 1325.9,242.8 1327,245.2 1328.1,247.6 1329.2,250 1330.3,252.5 1331.3,254.8 1332.3,257.2 1333.3,259.5 1334.3,261.9 1335.3,264.3 1336.3,266.7 1337.3,269.2 1338.3,271.6 1339.3,274 1340.3,276.5 1341.3,279 1342.3,281.5 1343.3,284 1344.3,286.5 1345.3,289 1346.3,291.5 1347.3,294 1348.3,296.4 1349.3,298.8 1350.3,301.3 1351.3,303.7 1352.3,306.2 1353.3,308.8 1354.3,311.3 1355.2,313.7 1356.1,316.1 1357,318.5 1357.9,320.9 1358.8,323.3 1359.7,325.8 1360.6,328.3 1361.5,330.8 1362.4,333.3 1363.3,335.9 1364.2,338.4 1365.1,341 1366,343.5 1366.9,346.1 1367.8,348.7 1368.7,351.3 1369.6,353.9 1370.5,356.5 1371.4,359.1 1372.3,361.7 1373.2,364.3 1374.1,367 1375,369.6 1375.9,372.2 1376.8,374.7 1377.7,377.3 1378.6,379.9 1379.5,382.5 1380.4,385 1381.3,387.6 1382.2,390.1 1383.1,392.6 1384,395.1 1384.9,397.6 1385.8,400.1 1386.7,402.5 1387.6,405 1388.5,407.5 1389.4,410 1390.3,412.5 1391.2,414.9 1392.1,417.4 1393,419.9 1393.9,422.3 1394.8,424.8 1395.7,427.3 1396.6,429.7 1397.5,432.2 1398.4,434.6 1399.3,437.1 1400.2,439.5 1401.1,442 1402,444.4 1402.9,446.8 1403.8,449.3 1404.7,451.7 1405.6,454.1 1406.5,456.5 1407.4,458.9 1408.3,461.3 1409.2,463.7 1410.1,466.1 1411,468.5 1411.9,470.9 1412.8,473.3 1413.7,475.7 1414.6,478.1 1415.5,480.4 1416.4,482.8 1417.3,485.1 1418.2,487.5 1419.1,489.8 1420,492.2 1420.9,494.5 1421.8,496.9 1422.7,499.3 1423.6,501.6 1424.5,504 1425.4,506.4 1426.3,508.8 1427.2,511.1 1428.1,513.5 1429,515.9 1429.9,518.2 1430.8,520.6 1431.8,523.2 1432.8,525.7 1433.8,528.3 1434.8,530.8 1435.8,533.3 1436.8,535.7 1437.8,538.2 1438.8,540.5 1439.8,542.9 1440.8,545.2 1441.9,547.7 1443,550.1 1444.1,552.4 1445.2,554.7 1446.4,557 1447.6,559.4 1448.8,561.6 1450,563.8 1451.3,566.2 1452.6,568.5 1453.9,570.8 1455.2,573.1 1456.5,575.5 1457.7,577.7 1458.9,580 1460.1,582.3 1461.3,584.7 1462.4,587 1463.5,589.4 1464.6,591.8 1465.7,594.3 1466.7,596.6 1467.7,599 1468.7,601.4 1469.7,603.8 1470.7,606.2 1471.7,608.6 1472.7,611.1 1473.7,613.5 1474.7,615.9 1475.7,618.3 1476.7,620.7 1477.7,623 1478.7,625.3 1479.8,627.8 1480.9,630.3 1482,632.7 1483.1,635 1484.2,637.4 1485.3,639.7 1486.4,642 1487.5,644.3 1488.6,646.6 1489.7,648.9 1490.8,651.2 1491.9,653.5 1493,655.8 1494.1,658.1 1495.2,660.4 1496.3,662.7 1497.4,665.1 1498.5,667.5 1499.6,669.9 1500.7,672.3 1501.8,674.8 1502.9,677.2 1504,679.7 1505.1,682.2 1506.2,684.6 1507.3,687.1 1508.4,689.6 1509.5,692.1 1510.6,694.6 1511.7,697.1 1512.8,699.6 1513.9,702 1515,704.5 1516.1,706.9 1517.2,709.4 1518.3,711.9 1519.4,714.4 1520.5,716.9 1521.6,719.4 1522.7,721.9 1523.8,724.4 1524.9,726.9 1526,729.3 1527.1,731.8 1528.2,734.2 1529.3,736.7 1530.4,739.1 1531.5,741.5 1532.6,743.8 1533.7,746.1 1534.8,748.4 1536,750.8 1537.2,753.2 1538.4,755.6 1539.6,757.9 1540.8,760.2 1542,762.5 1543.2,764.8 1544.4,767 1545.6,769.3 1546.8,771.5 1548,773.7 1549.2,775.9 1550.4,778.2 1551.6,780.4 1552.8,782.6 1554,784.9 1555.2,787.2 1556.4,789.4 1557.6,791.7 1558.8,793.9 1560,796.2 1561.2,798.4 1562.4,800.6 1563.6,802.9 1564.8,805.1 1566,807.3 1567.2,809.6 1568.4,811.8 1569.6,814.1 1570.8,816.4 1572,818.7 1573.2,821.1 1574.4,823.4 1575.6,825.8 1576.8,828.2 1577.9,830.5 1579,832.8 1580.1,835.2 1581.2,837.5 1582.3,839.9 1583.4,842.3 1584.5,844.8 1585.6,847.2 1586.7,849.6 1587.8,852 1588.9,854.3 1590,856.7 1591.1,858.9 1592.2,861.2 1593.4,863.6 1594.6,866 1595.8,868.3 1597,870.7 1598.2,873 1599.4,875.3 1600.6,877.5 1601.8,879.8 1603,882 1604.2,884.2 1605.5,886.6 1606.8,888.9 1608.1,891.3 1609.4,893.6 1610.7,895.9 1612,898.1 1613.3,900.3 1614.6,902.5 1615.9,904.7 1617.2,906.9 1618.5,909 1619.9,911.3 1621.3,913.6 1622.7,915.9 1624.1,918.1 1625.5,920.4 1626.9,922.6 1628.3,924.9 1629.7,927.1 1631.1,929.4 1632.5,931.7 1633.9,934 1635.3,936.3 1636.7,938.6 1638,940.7 1639.3,942.8 1640.6,945 1641.9,947.1 1643.2,949.3 1644.5,951.4 1645.9,953.7 1647.3,956 1648.7,958.3 1650.1,960.6 1651.5,962.8 1652.9,965.1 1654.3,967.3 1655.7,969.5 1657.1,971.8 1658.5,973.9 1659.9,976.1 1661.3,978.3 1662.7,980.5 1664.1,982.6 1665.5,984.8 1666.9,986.9 1668.3,989 1669.7,991.2 1671.1,993.3 1672.5,995.4 1673.9,997.5 1675.3,999.5 1676.8,1001.8 1678.3,1003.9 1679.8,1006.1 1681.3,1008.3 1682.8,1010.4 1684.3,1012.5 1685.8,1014.6 1687.3,1016.7 1688.8,1018.8 1690.3,1020.9 1691.8,1023 1693.3,1025.1 1694.8,1027.1 1696.3,1029.2 1697.8,1031.2 1699.3,1033.2 1700.9,1035.3 1702.5,1037.4 1704.1,1039.5 1705.7,1041.5 1707.3,1043.5 1708.9,1045.5 1710.5,1047.5 1712.1,1049.4 1713.8,1051.5 1715.5,1053.5 1717.2,1055.5 1718.9,1057.4 1720.6,1059.3 1722.3,1061.3 1724,1063.1 1725.7,1065 1727.4,1066.9 1729.1,1068.7 1730.9,1070.7 1732.7,1072.6 1734.5,1074.5 1736.3,1076.4 1738.1,1078.3 1739.9,1080.2 1741.7,1082.1 1743.5,1083.9 1745.3,1085.8 1747.1,1087.7 1748.9,1089.5 1750.7,1091.4 1752.5,1093.2 1754.3,1095 1756.1,1096.8 1757.9,1098.6 1759.7,1100.4 1761.5,1102.2 1763.3,1104 1765.1,1105.7 1766.9,1107.5 1768.7,1109.2 1770.6,1111 1772.5,1112.8 1774.4,1114.7 1776.3,1116.5 1778.2,1118.3 1780.1,1120 1782,1121.8 1783.9,1123.6 1785.8,1125.4 1787.7,1127.1 1789.6,1128.9 1791.5,1130.6 1793.4,1132.3 1795.3,1134 1797.2,1135.7 1799.1,1137.4 1801,1139.1 1802.9,1140.8 1804.8,1142.4 1806.7,1144 1808.7,1145.7 1810.7,1147.4 1812.7,1149.1 1814.7,1150.8 1816.7,1152.5 1818.7,1154.1 1820.7,1155.8 1822.7,1157.4 1824.7,1159 1826.7,1160.6 1828.7,1162.2 1830.7,1163.8 1832.7,1165.3 1834.7,1166.8 1836.8,1168.4 1838.9,1169.9 1841,1171.4 1843.1,1172.9 1845.2,1174.3 1847.3,1175.8 1849.4,1177.2 1851.5,1178.5 1853.7,1179.9 1855.9,1181.3 1857,1182" fill="none" stroke="#8f00ff" stroke-width="11.5" stroke-linecap="round" stroke-linejoin="round"/>
<path d="M353.5,1362.5 356,1362.5 358.5,1362.5 361,1362.5 363.5,1362.5 366,1362.5 368.5,1362.4 371,1362.4 373.5,1362.4 376,1362.4 378.5,1362.4 381,1362.4 383.5,1362.3 386,1362.3 388.5,1362.3 391,1362.3 393.5,1362.3 396,1362.2 398.5,1362.2 401,1362.2 403.5,1362.2 406,1362.1 408.5,1362.1 411,1362.1 413.5,1362.1 416,1362 418.5,1362 421,1362 423.5,1362 426,1361.9 428.5,1361.9 431,1361.9 433.5,1361.8 436,1361.8 438.5,1361.8 441,1361.7 443.5,1361.7 446,1361.7 448.5,1361.6 451,1361.6 453.5,1361.5 456,1361.5 458.5,1361.5 461,1361.4 463.5,1361.4 466,1361.3 468.5,1361.3 471,1361.2 473.5,1361.1 476,1361.1 478.5,1361 481,1361 483.5,1360.9 486,1360.9 488.5,1360.8 491,1360.7 493.5,1360.6 496,1360.6 498.5,1360.5 501,1360.4 503.5,1360.3 506,1360.2 508.5,1360.1 511,1360 513.5,1359.9 516,1359.7 518.5,1359.6 521,1359.4 523.5,1359.2 526,1359 528.5,1358.7 531,1358.3 533.5,1358 536,1357.6 538.5,1357.2 541,1356.8 543.5,1356.3 546,1355.8 548.5,1355.3 551,1355 553.5,1355.1 556,1355.3 558.5,1355.8 561,1356.3 563.5,1356.8 566,1357.1 568.5,1357.4 571,1357.8 573.5,1358.1 576,1358.3 578.5,1358.6 581,1358.9 583.5,1359.1 586,1359.3 588.5,1359.4 591,1359.5 593.5,1359.6 596,1359.7 598.5,1359.8 601,1359.9 603.5,1360 606,1360 608.5,1360.1 611,1360.2 613.5,1360.2 616,1360.3 618.5,1360.3 621,1360.4 623.5,1360.4 626,1360.5 628.5,1360.5 631,1360.5 633.5,1360.6 636,1360.6 638.5,1360.6 641,1360.6 643.5,1360.6 646,1360.6 648.5,1360.6 651,1360.6 653.5,1360.7 656,1360.7 658.5,1360.7 661,1360.7 663.5,1360.7 666,1360.7 668.5,1360.7 671,1360.7 673.5,1360.7 676,1360.7 678.5,1360.7 681,1360.7 683.5,1360.8 686,1360.8 688.5,1360.8 691,1360.8 693.5,1360.8 696,1360.8 698.5,1360.8 701,1360.8 703.5,1360.8 706,1360.8 708.5,1360.8 711,1360.8 713.5,1360.8 716,1360.8 718.5,1360.8 721,1360.8 723.5,1360.8 726,1360.8 728.5,1360.9 731,1360.9 733.5,1360.9 736,1360.9 738.5,1360.9 741,1360.9 743.5,1360.9 746,1360.9 748.5,1360.9 751,1360.9 753.5,1360.9 756,1360.9 758.5,1360.9 761,1360.9 763.5,1360.9 766,1360.9 768.5,1360.9 771,1360.9 773.5,1360.9 776,1360.9 778.5,1360.9 781,1360.9 783.5,1360.9 786,1360.9 788.5,1360.9 791,1360.9 793.5,1360.8 796,1360.6 798.5,1360.3 801,1360 803.5,1359.7 806,1359.3 808.5,1359 811,1358.6 813.5,1358.3 816,1358.1 818.5,1357.9 821,1357.7 823.5,1357.6 826,1357.4 828.5,1357.3 831,1357.1 833.5,1357 836,1356.9 838.5,1356.7 841,1356.5 843.5,1356.4 846,1356.2 848.5,1355.9 851,1355.7 853.5,1355.4 856,1355 858.5,1354.6 861,1354.1 863.5,1353.5 866,1352.9 868.5,1352.2 870.9,1351.4 873.3,1350.7 875.7,1349.9 878.1,1349 880.5,1348.1 882.9,1347.2 885.3,1346.2 887.7,1345.2 890.1,1344.2 892.4,1343.2 894.7,1342.1 897,1340.9 899.2,1339.7 901.4,1338.4 903.6,1337 905.7,1335.6 907.8,1334.2 909.9,1332.7 911.9,1331.1 913.9,1329.5 915.9,1327.9 917.8,1326.2 919.7,1324.5 921.6,1322.7 923.4,1320.9 925.2,1319.1 926.9,1317.2 928.5,1315.2 930,1313.2 931.5,1311 932.9,1308.8 934.3,1306.5 935.6,1304.3 936.9,1302 938.1,1299.8 939.3,1297.5 940.5,1295.2 941.7,1292.9 942.9,1290.5 944.1,1288.1 945.3,1285.7 946.4,1283.4 947.5,1281.1 948.6,1278.9 949.7,1276.6 950.8,1274.2 951.9,1271.8 953,1269.3 954,1267 955,1264.6 956,1262.2 957,1259.7 958,1257.1 959,1254.5 959.9,1252.2 960.8,1249.7 961.7,1247.3 962.6,1244.8 963.5,1242.2 964.4,1239.6 965.3,1237 966.1,1234.6 966.9,1232.1 967.7,1229.6 968.5,1227 969.3,1224.3 970.1,1221.6 970.8,1219.2 971.5,1216.8 972.2,1214.3 972.9,1211.8 973.6,1209.2 974.3,1206.6 975,1204.1 975.7,1201.4 976.4,1198.8 977.1,1196.1 977.8,1193.5 978.5,1190.8 979.2,1188.1 979.9,1185.4 980.6,1182.7 981.3,1180 982,1177.3 982.7,1174.6 983.4,1172 984.1,1169.3 984.8,1166.6 985.5,1163.9 986.2,1161.3 986.9,1158.7 987.6,1156.1 988.3,1153.5 989,1150.8 989.7,1148.2 990.4,1145.4 991.1,1142.7 991.7,1140.2 992.3,1137.6 992.9,1135 993.5,1132.2 994.1,1129.4 994.7,1126.5 995.2,1124 995.7,1121.6 996.2,1119.1 996.7,1116.6 997.2,1114.1 997.7,1111.6 998.2,1109.1 998.7,1106.6 999.2,1104.1 999.7,1101.7 1000.2,1099.2 1000.7,1096.7 1001.2,1094.1 1001.7,1091.6 1002.2,1089.1 1002.7,1086.6 1003.2,1084 1003.7,1081.5 1004.2,1078.9 1004.7,1076.4 1005.2,1073.8 1005.7,1071.3 1006.2,1068.8 1006.7,1066.2 1007.2,1063.7 1007.7,1061.1 1008.2,1058.5 1008.7,1055.9 1009.2,1053.2 1009.7,1050.4 1010.2,1047.7 1010.7,1044.8 1011.2,1041.9 1011.7,1039 1012.2,1036.1 1012.7,1033.1 1013.2,1030.1 1013.7,1027 1014.1,1024.5 1014.5,1022 1014.9,1019.4 1015.3,1016.7 1015.7,1014 1016.1,1011.3 1016.5,1008.5 1016.9,1005.7 1017.3,1002.7 1017.7,999.8 1018.1,996.7 1018.5,993.6 1018.9,990.5 1019.3,987.3 1019.7,984.1 1020.1,980.8 1020.5,977.5 1020.8,975 1021.1,972.5 1021.4,970 1021.7,967.5 1022,965 1022.3,962.5 1022.6,959.9 1022.9,957.3 1023.2,954.6 1023.5,951.9 1023.8,949.2 1024.1,946.4 1024.4,943.6 1024.7,940.8 1025,938 1025.3,935.2 1025.6,932.4 1025.9,929.6 1026.2,926.8 1026.5,924.1 1026.8,921.3 1027.1,918.6 1027.4,915.9 1027.7,913.3 1028,910.7 1028.3,908.2 1028.6,905.7 1028.9,903.2 1029.3,899.9 1029.7,896.6 1030.1,893.4 1030.5,890.1 1030.9,887 1031.3,883.8 1031.7,880.7 1032.1,877.6 1032.5,874.5 1032.9,871.4 1033.3,868.4 1033.7,865.4 1034.1,862.4 1034.5,859.4 1034.9,856.5 1035.3,853.5 1035.7,850.7 1036.1,847.8 1036.5,845 1036.9,842.1 1037.3,839.3 1037.7,836.5 1038.1,833.7 1038.5,831 1038.9,828.2 1039.3,825.4 1039.7,822.6 1040.1,819.9 1040.5,817.1 1040.9,814.3 1041.3,811.6 1041.7,808.8 1042.1,806.1 1042.5,803.4 1042.9,800.7 1043.3,798 1043.7,795.3 1044.1,792.5 1044.5,789.8 1044.9,787.1 1045.3,784.3 1045.7,781.5 1046.1,778.7 1046.5,775.9 1046.9,773.1 1047.3,770.2 1047.7,767.4 1048.1,764.5 1048.5,761.6 1048.9,758.7 1049.3,755.8 1049.7,752.9 1050.1,750 1050.5,747.1 1050.9,744.2 1051.3,741.2 1051.7,738.3 1052.1,735.4 1052.5,732.4 1052.9,729.5 1053.3,726.6 1053.7,723.6 1054.1,720.7 1054.5,717.7 1054.9,714.8 1055.3,711.8 1055.7,708.8 1056.1,705.8 1056.5,702.9 1056.9,699.9 1057.3,696.9 1057.7,693.8 1058.1,690.8 1058.5,687.8 1058.9,684.7 1059.3,681.6 1059.7,678.5 1060.1,675.4 1060.5,672.3 1060.9,669.2 1061.3,666.1 1061.7,662.9 1062.1,659.8 1062.5,656.7 1062.9,653.5 1063.3,650.4 1063.7,647.3 1064.1,644.2 1064.5,641.1 1064.9,638 1065.3,634.8 1065.7,631.7 1066.1,628.5 1066.5,625.3 1066.9,622.1 1067.3,619 1067.7,615.8 1068.1,612.7 1068.5,609.7 1068.9,606.7 1069.3,603.8 1069.7,600.9 1070.1,598.2 1070.5,595.5 1070.9,592.8 1071.3,590.3 1071.7,587.7 1072.1,585.3 1072.6,582.2 1073.1,579.2 1073.6,576.3 1074.1,573.4 1074.6,570.5 1075.1,567.6 1075.6,564.8 1076.1,561.9 1076.6,559 1077.1,556.2 1077.6,553.5 1078.1,550.7 1078.6,548 1079.1,545.3 1079.6,542.7 1080.1,540 1080.6,537.3 1081.1,534.6 1081.6,531.8 1082.1,529 1082.6,526.2 1083.1,523.4 1083.6,520.5 1084.1,517.6 1084.6,514.7 1085.1,511.8 1085.6,508.9 1086.1,505.9 1086.6,503 1087.1,500.1 1087.6,497.2 1088.1,494.3 1088.6,491.5 1089.1,488.6 1089.6,485.7 1090.1,482.8 1090.6,480 1091.1,477.1 1091.6,474.3 1092.1,471.4 1092.6,468.6 1093.1,465.8 1093.6,463 1094.1,460.2 1094.6,457.5 1095.1,454.8 1095.6,452 1096.1,449.3 1096.6,446.7 1097.1,444 1097.6,441.3 1098.1,438.7 1098.6,436.1 1099.1,433.4 1099.6,430.8 1100.1,428.2 1100.6,425.7 1101.1,423.1 1101.6,420.5 1102.1,417.9 1102.6,415.4 1103.1,412.8 1103.6,410.3 1104.1,407.8 1104.6,405.3 1105.2,402.4 1105.8,399.6 1106.4,396.8 1107,394.1 1107.6,391.5 1108.2,388.8 1108.8,386.3 1109.4,383.7 1110,381.2 1110.6,378.8 1111.3,375.9 1112,373.2 1112.7,370.5 1113.4,367.9 1114.1,365.3 1114.8,362.8 1115.5,360.3 1116.2,357.8 1116.9,355.4 1117.6,353 1118.3,350.5 1119,348.1 1119.7,345.7 1120.5,343 1121.3,340.3 1122.1,337.6 1122.9,334.9 1123.7,332.2 1124.5,329.6 1125.3,327 1126.1,324.4 1126.9,321.8 1127.7,319.3 1128.5,316.7 1129.3,314.1 1130.1,311.4 1130.9,308.7 1131.6,306.2 1132.3,303.8 1133,301.3 1133.7,298.8 1134.4,296.3 1135.1,293.8 1135.8,291.3 1136.5,288.9 1137.2,286.5 1137.9,284.1 1138.6,281.6 1139.4,278.9 1140.2,276.2 1141,273.5 1141.8,271 1142.6,268.4 1143.4,265.9 1144.2,263.5 1145,261.1 1145.9,258.5 1146.8,255.9 1147.7,253.4 1148.6,250.9 1149.5,248.6 1150.5,246 1151.5,243.5 1152.5,241.1 1153.5,238.8 1154.6,236.2 1155.7,233.8 1156.8,231.5 1157.9,229.2 1159.1,226.8 1160.3,224.5 1161.5,222.2 1162.8,219.9 1164.1,217.6 1165.4,215.5 1166.8,213.2 1168.2,211 1169.6,208.9 1171.1,206.7 1172.6,204.6 1174.1,202.6 1175.7,200.5 1177.3,198.4 1178.9,196.5 1180.6,194.5 1182.3,192.5 1184,190.6 1185.8,188.7 1187.6,186.9 1189.4,185.1 1191.2,183.4 1193.1,181.6 1195,179.9 1196.9,178.2 1198.9,176.5 1200.9,175 1202.9,173.5 1205,172 1207.1,170.5 1209.2,169.1 1211.3,167.8 1213.5,166.4 1215.7,165.1 1217.9,163.9 1220.2,162.8 1222.6,161.9 1225,161.1 1227.4,160.4 1229.8,159.6 1232.3,158.9 1234.8,158.3 1237.3,157.8 1239.8,157.7 1242.3,157.6 1244.8,157.6 1247.3,157.9 1249.8,158.5 1252.3,159.1 1254.7,159.8 1257.1,160.6 1259.5,161.4 1261.9,162.4 1264.2,163.6 1266.3,165 1268.4,166.5 1270.4,168 1272.4,169.6 1274.4,171.3 1276.3,173 1278.2,174.7 1280.1,176.5 1281.9,178.4 1283.6,180.3 1285.3,182.2 1287,184.2 1288.6,186.2 1290.2,188.1 1291.8,190.2 1293.4,192.3 1294.9,194.3 1296.4,196.4 1297.9,198.5 1299.4,200.7 1300.8,202.8 1302.2,204.9 1303.6,207.1 1305,209.4 1306.4,211.6 1307.7,213.8 1309,216 1310.3,218.2 1311.6,220.5 1312.9,222.8 1314.1,225 1315.3,227.3 1316.5,229.6 1317.7,231.9 1318.9,234.3 1320.1,236.7 1321.2,239 1322.3,241.3 1323.4,243.6 1324.5,245.9 1325.6,248.4 1326.7,250.8 1327.8,253.3 1328.9,255.8 1329.9,258.1 1330.9,260.4 1331.9,262.8 1332.9,265.2 1333.9,267.6 1334.9,270 1335.9,272.4 1336.9,274.9 1337.9,277.3 1338.9,279.8 1339.9,282.3 1340.9,284.7 1341.9,287.2 1342.9,289.7 1343.9,292.2 1344.9,294.7 1345.9,297.2 1346.9,299.7 1347.9,302.1 1348.9,304.6 1349.9,307 1350.9,309.5 1351.9,312 1352.9,314.6 1353.8,316.9 1354.7,319.3 1355.6,321.7 1356.5,324.2 1357.4,326.6 1358.3,329.1 1359.2,331.6 1360.1,334.1 1361,336.6 1361.9,339.1 1362.8,341.7 1363.7,344.3 1364.6,346.8 1365.5,349.4 1366.4,352 1367.3,354.6 1368.2,357.2 1369.1,359.8 1370,362.4 1370.9,365 1371.8,367.6 1372.7,370.2 1373.6,372.8 1374.5,375.5 1375.4,378 1376.3,380.6 1377.2,383.2 1378.1,385.7 1379,388.3 1379.9,390.8 1380.8,393.4 1381.7,395.9 1382.6,398.4 1383.5,400.9 1384.4,403.4 1385.3,405.8 1386.2,408.3 1387.1,410.8 1388,413.3 1388.9,415.7 1389.8,418.2 1390.7,420.7 1391.6,423.1 1392.5,425.6 1393.4,428.1 1394.3,430.5 1395.2,433 1396.1,435.4 1397,437.9 1397.9,440.3 1398.8,442.8 1399.7,445.2 1400.6,447.7 1401.5,450.1 1402.4,452.5 1403.3,454.9 1404.2,457.4 1405.1,459.8 1406,462.2 1406.9,464.6 1407.8,467 1408.7,469.4 1409.6,471.8 1410.5,474.2 1411.4,476.6 1412.3,479 1413.2,481.3 1414.1,483.7 1415,486 1415.9,488.4 1416.8,490.7 1417.7,493.1 1418.6,495.4 1419.5,497.8 1420.4,500.2 1421.3,502.5 1422.2,504.9 1423.1,507.3 1424,509.6 1424.9,512 1425.8,514.4 1426.7,516.8 1427.6,519.1 1428.5,521.5 1429.4,523.8 1430.4,526.4 1431.4,529 1432.4,531.5 1433.4,534 1434.4,536.5 1435.4,539 1436.4,541.4 1437.4,543.8 1438.4,546.1 1439.4,548.4 1440.5,550.9 1441.6,553.3 1442.7,555.6 1443.9,558 1445.1,560.4 1446.3,562.7 1447.5,565 1448.7,567.2 1450,569.5 1451.3,571.8 1452.6,574.1 1453.9,576.5 1455.1,578.7 1456.3,581 1457.5,583.2 1458.7,585.5 1459.9,587.9 1461,590.2 1462.1,592.6 1463.2,595.1 1464.3,597.6 1465.3,599.9 1466.3,602.2 1467.3,604.6 1468.3,607 1469.3,609.4 1470.3,611.9 1471.3,614.3 1472.3,616.7 1473.3,619.1 1474.3,621.5 1475.3,623.9 1476.3,626.2 1477.3,628.6 1478.4,631.1 1479.5,633.5 1480.6,635.9 1481.7,638.3 1482.8,640.6 1483.9,642.9 1485,645.2 1486.1,647.5 1487.2,649.8 1488.3,652.1 1489.4,654.4 1490.5,656.7 1491.6,659 1492.7,661.3 1493.8,663.6 1494.9,666 1496,668.3 1497.1,670.7 1498.2,673.1 1499.3,675.6 1500.4,678 1501.5,680.5 1502.6,682.9 1503.7,685.4 1504.8,687.9 1505.9,690.4 1507,692.8 1508.1,695.3 1509.2,697.8 1510.3,700.3 1511.4,702.8 1512.5,705.2 1513.6,707.7 1514.7,710.2 1515.8,712.7 1516.9,715.1 1518,717.6 1519.1,720.1 1520.2,722.6 1521.3,725.1 1522.4,727.6 1523.5,730.1 1524.6,732.6 1525.7,735 1526.8,737.5 1527.9,739.9 1529,742.3 1530.1,744.7 1531.2,747 1532.3,749.3 1533.4,751.6 1534.6,754 1535.8,756.4 1537,758.8 1538.2,761.1 1539.4,763.4 1540.6,765.7 1541.8,768 1543,770.2 1544.2,772.5 1545.4,774.7 1546.6,776.9 1547.8,779.1 1549,781.4 1550.2,783.6 1551.4,785.8 1552.6,788.1 1553.8,790.4 1555,792.6 1556.2,794.9 1557.4,797.1 1558.6,799.3 1559.8,801.6 1561,803.8 1562.2,806 1563.4,808.3 1564.6,810.5 1565.8,812.8 1567,815 1568.2,817.3 1569.4,819.6 1570.6,821.9 1571.8,824.2 1573,826.6 1574.2,829 1575.3,831.2 1576.4,833.5 1577.5,835.9 1578.6,838.2 1579.7,840.5 1580.8,842.9 1581.9,845.3 1583,847.7 1584.1,850.2 1585.2,852.6 1586.3,855 1587.4,857.3 1588.5,859.6 1589.6,861.9 1590.7,864.2 1591.9,866.6 1593.1,869 1594.3,871.3 1595.5,873.7 1596.7,876 1597.9,878.3 1599.1,880.5 1600.3,882.8 1601.5,885 1602.7,887.2 1604,889.6 1605.3,891.9 1606.6,894.3 1607.9,896.6 1609.2,898.9 1610.5,901.1 1611.8,903.3 1613.1,905.5 1614.4,907.7 1615.7,909.9 1617,912 1618.4,914.3 1619.8,916.6 1621.2,918.9 1622.6,921.1 1624,923.4 1625.4,925.6 1626.8,927.9 1628.2,930.1 1629.6,932.4 1631,934.7 1632.4,937 1633.8,939.3 1635.2,941.6 1636.5,943.7 1637.8,945.8 1639.1,948 1640.4,950.1 1641.7,952.3 1643,954.4 1644.3,956.5 1645.7,958.8 1647.1,961.1 1648.5,963.4 1649.9,965.7 1651.3,967.9 1652.7,970.2 1654.1,972.4 1655.5,974.6 1656.9,976.8 1658.3,979 1659.7,981.1 1661.1,983.3 1662.5,985.5 1663.9,987.6 1665.3,989.8 1666.7,991.9 1668.1,994 1669.5,996.1 1670.9,998.2 1672.3,1000.3 1673.7,1002.4 1675.2,1004.6 1676.7,1006.8 1678.2,1009 1679.7,1011.1 1681.2,1013.3 1682.7,1015.4 1684.2,1017.5 1685.7,1019.6 1687.2,1021.7 1688.7,1023.8 1690.2,1025.9 1691.7,1027.9 1693.2,1030 1694.7,1032 1696.2,1034 1697.7,1036.1 1699.3,1038.2 1700.9,1040.3 1702.5,1042.3 1704.1,1044.4 1705.7,1046.4 1707.3,1048.4 1708.9,1050.4 1710.5,1052.3 1712.2,1054.4 1713.9,1056.4 1715.6,1058.3 1717.3,1060.3 1719,1062.2 1720.7,1064.1 1722.4,1066 1724.1,1067.9 1725.8,1069.8 1727.5,1071.6 1729.3,1073.5 1731.1,1075.5 1732.9,1077.4 1734.7,1079.3 1736.5,1081.2 1738.3,1083.1 1740.1,1085 1741.9,1086.8 1743.7,1088.7 1745.5,1090.6 1747.3,1092.4 1749.1,1094.3 1750.9,1096.1 1752.7,1097.9 1754.5,1099.7 1756.3,1101.5 1758.1,1103.3 1759.9,1105.1 1761.7,1106.9 1763.5,1108.6 1765.3,1110.4 1767.1,1112.1 1769,1113.9 1770.9,1115.8 1772.8,1117.6 1774.7,1119.4 1776.6,1121.2 1778.5,1122.9 1780.4,1124.7 1782.3,1126.5 1784.2,1128.3 1786.1,1130 1788,1131.8 1789.9,1133.5 1791.8,1135.2 1793.7,1136.9 1795.6,1138.6 1797.5,1140.3 1799.4,1142 1801.3,1143.7 1803.2,1145.3 1805.1,1146.9 1807.1,1148.7 1809.1,1150.4 1811.1,1152 1813.1,1153.7 1815.1,1155.4 1817.1,1157.1 1819.1,1158.7 1821.1,1160.3 1823.1,1162 1825.1,1163.6 1827.1,1165.1 1829.1,1166.7 1831.1,1168.2 1832.2,1169.1" fill="none" stroke="#00ffff" stroke-width="11.5" stroke-linecap="round" stroke-linejoin="round" stroke-dasharray="13.3 25"/>
<path d="M1629.1,140H1779" fill="none" stroke="#000000" stroke-width="12" stroke-linecap="round" stroke-dasharray="25 21 0.01 21"/>
<text x="1797.3 1831.5 1848.2 1886.7 1900.7 1949.8 1969.8" y="165.3" font-size="77" font-family="'Liberation Serif', 'Times New Roman', serif" font-weight="bold">1.0 wt%</text>
<path d="M1629.1,254H1779" fill="none" stroke="#0000ff" stroke-width="12" stroke-linecap="round" stroke-dasharray="0.01 17.56"/>
<text x="1797.3 1831.5 1848.2 1886.7 1900.7 1949.8 1969.8" y="279.3" font-size="77" font-family="'Liberation Serif', 'Times New Roman', serif" font-weight="bold">2.0 wt%</text>
<path d="M1629.1,368H1779" fill="none" stroke="#00ff00" stroke-width="12" stroke-linecap="round" stroke-dasharray="31 29 5 29 5 29"/>
<text x="1797.3 1831.5 1848.2 1886.7 1900.7 1949.8 1969.8" y="393.3" font-size="77" font-family="'Liberation Serif', 'Times New Roman', serif" font-weight="bold">3.0 wt%</text>
<path d="M1629.1,482H1779" fill="none" stroke="#ff0000" stroke-width="12" stroke-linecap="round" stroke-dasharray="35 49.1"/>
<text x="1797.3 1831.5 1848.2 1886.7 1900.7 1949.8 1969.8" y="507.3" font-size="77" font-family="'Liberation Serif', 'Times New Roman', serif" font-weight="bold">4.0 wt%</text>
<path d="M1629.1,596H1779" fill="none" stroke="#8f00ff" stroke-width="12" stroke-linecap="round"/>
<text x="1797.3 1831.5 1848.2 1886.7 1900.7 1949.8 1969.8" y="621.3" font-size="77" font-family="'Liberation Serif', 'Times New Roman', serif" font-weight="bold">5.0 wt%</text>
<path d="M1629.1,710H1779" fill="none" stroke="#00ffff" stroke-width="12" stroke-linecap="round" stroke-dasharray="13.3 25"/>
<text x="1797.3 1831.5 1848.2 1886.7 1900.7 1949.8 1969.8" y="735.3" font-size="77" font-family="'Liberation Serif', 'Times New Roman', serif" font-weight="bold">6.0 wt%</text>
</svg>
</body></html>
